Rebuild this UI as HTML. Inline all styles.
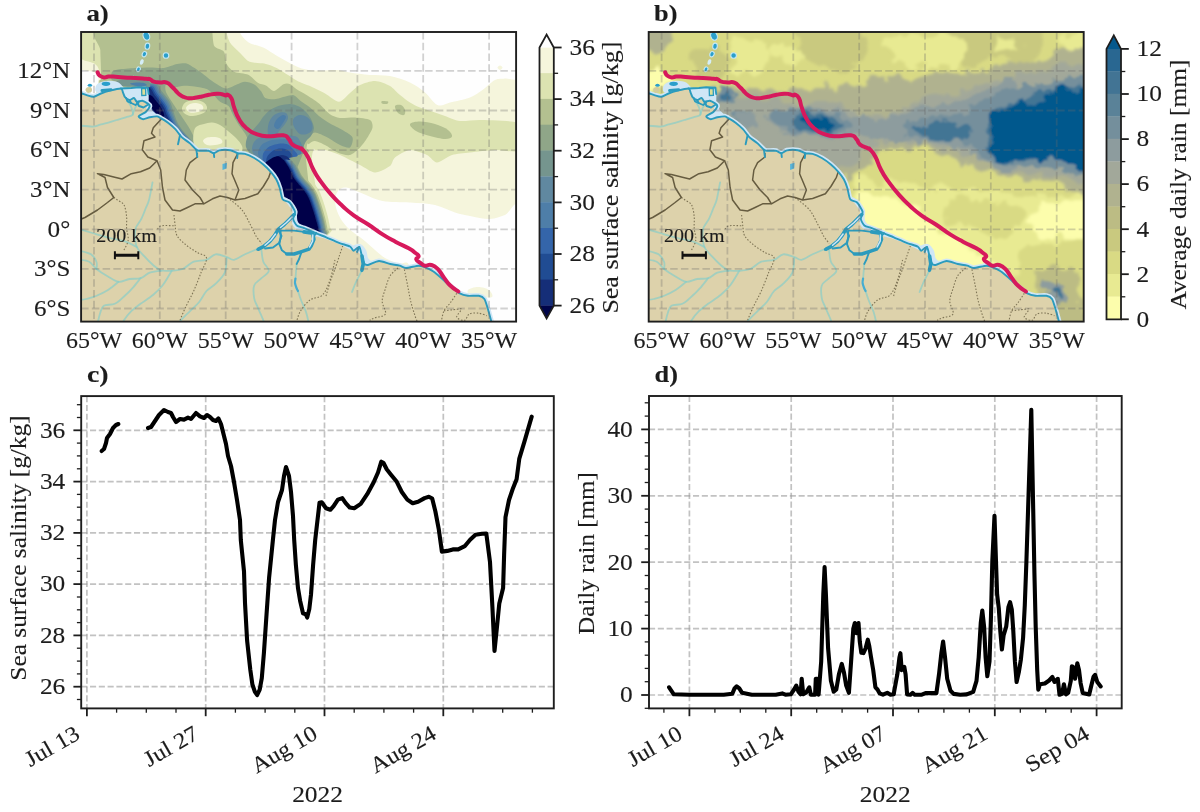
<!DOCTYPE html>
<html lang="en"><head><meta charset="utf-8"><title>Figure</title>
<style>
html,body{margin:0;padding:0;background:#fff;}
body{width:1200px;height:812px;overflow:hidden;}
svg{display:block;filter:blur(0.55px);}
text{font-family:"Liberation Serif",serif;fill:#1c1c1c;stroke:#1c1c1c;stroke-width:0.12px;}
</style></head><body>
<svg width="1200" height="812" viewBox="0 0 1200 812">
<rect x="0" y="0" width="1200" height="812" fill="#ffffff"/>
<defs>
<clipPath id="clipA"><rect x="81.1" y="32.0" width="435.0" height="289.6"/></clipPath>
<filter id="bl1" x="-10%" y="-10%" width="120%" height="120%"><feGaussianBlur stdDeviation="0.7"/></filter>
<filter id="bl2" x="-10%" y="-10%" width="120%" height="120%"><feGaussianBlur stdDeviation="2.2"/></filter>
<filter id="bl3" x="-10%" y="-10%" width="120%" height="120%"><feGaussianBlur stdDeviation="1.3"/></filter>
<filter id="rn2" x="-5%" y="-5%" width="110%" height="110%"><feTurbulence type="fractalNoise" baseFrequency="0.06" numOctaves="3" seed="7" result="n"/><feDisplacementMap in="SourceGraphic" in2="n" scale="22" xChannelSelector="R" yChannelSelector="G"/><feGaussianBlur stdDeviation="1.6"/></filter>
<filter id="rn3" x="-5%" y="-5%" width="110%" height="110%"><feTurbulence type="fractalNoise" baseFrequency="0.09" numOctaves="3" seed="3" result="n"/><feDisplacementMap in="SourceGraphic" in2="n" scale="14" xChannelSelector="R" yChannelSelector="G"/><feGaussianBlur stdDeviation="1.0"/></filter>
<filter id="bl0" x="-5%" y="-5%" width="110%" height="110%"><feGaussianBlur stdDeviation="0.45"/></filter>
<g id="geo">
<path d="M79 93C79.3 93.1 80.8 93.2 81.8 93.5C82.8 93.8 85.9 94.9 87.3 95.3C88.7 95.7 92.1 96.9 93.7 96.7C95.3 96.5 99.1 94.2 101 93.5C102.9 92.8 107.7 91.3 110 90.7C112.3 90.1 119.5 88.3 121 88.5C122.5 88.7 122.5 91.6 123 92.6C123.5 93.6 124.2 96.3 125 97.2C125.8 98.1 128.4 99.9 129.5 100C130.6 100.1 133.1 97.8 134 98C134.9 98.2 135.8 101.4 136.8 101.7C137.8 102 141 100.6 142.3 100.8C143.6 101 146.9 103 147.8 103.6C148.7 104.2 149.9 105.3 149.7 106.3C149.5 107.3 147.3 110.6 146 111.8C144.7 113 139 115.5 138.7 116.4C138.4 117.3 141.9 119.1 143.2 119.2C144.5 119.3 148.1 117.6 149.7 117.3C151.3 117 155.7 116.3 157 116.4C158.3 116.5 159.4 117.5 160.7 118.2C162 118.9 166.3 121.5 168 122.8C169.7 124.1 173.9 127.8 175.3 129.2C176.7 130.6 179.1 134.2 180 135.2C180.9 136.2 181.5 137 182.7 138C183.9 139 188.4 142 190 143.4C191.6 144.8 195.3 148.9 196.4 149.8C197.5 150.7 197.8 150.7 199.2 150.8C200.6 150.9 206.6 150.5 208.3 150.8C210 151.1 212.5 153.3 213.8 153.3C215.1 153.3 217.4 150.8 219.3 150.4C221.2 150 228.2 149.9 230.3 150.2C232.4 150.5 236 152.9 237.7 153.3C239.4 153.7 243.1 153.4 245 153.9C246.9 154.4 252.1 156.8 254.2 158C256.3 159.2 261.4 162.9 263.3 164.5C265.2 166.1 269.2 170.1 270.7 171.8C272.2 173.5 275.1 177.3 276.2 179.2C277.3 181.1 279.1 186 279.8 188.3C280.5 190.6 281.5 197.6 282.6 199.3C283.7 201 288.1 201.1 289.5 202.5C290.9 203.9 294.6 209.8 295 211.7C295.4 213.6 293 217.4 293.2 219C293.4 220.6 295.5 224.3 296.8 225.4C298.1 226.5 301.8 227.2 304.2 228.2C306.6 229.2 314.4 232.6 317 233.7C319.6 234.8 323.6 236.2 326.2 237.3C328.8 238.4 336.2 241.7 339 242.8C341.8 243.9 348.3 245.6 350 246.5C351.7 247.4 352.6 250.7 353.7 250.7C354.8 250.7 358.4 246.4 359.3 246.9C360.2 247.4 361.2 253.5 361.7 255.4C362.2 257.3 363.3 262.2 364 263.3C364.7 264.4 366.2 265.3 368 265C369.8 264.7 376.4 261.1 379 261C381.6 260.9 387.8 263.5 390.2 264C392.6 264.5 397.9 265.2 399.7 265.7C401.5 266.2 403.8 268 406 268C408.2 268 416.5 265.8 418.7 265.7C420.9 265.6 423.3 266.7 425 267.3C426.7 267.9 431.2 270 433 271.2C434.8 272.4 438.8 275.8 440.8 277.6C442.8 279.4 448.1 284.5 450.3 286.3C452.5 288.1 457.8 292.3 459.8 293.4C461.8 294.5 465.6 295.5 467.8 295.8C470 296.1 476.9 295.4 478.8 295.8C480.7 296.2 483.4 297.6 484.4 299C485.4 300.4 486.6 304.8 487.5 307.7C488.4 310.6 491.5 322.1 492 324" fill="none" stroke="#cfe6f6" stroke-width="5.2" stroke-linejoin="round"/>
<path d="M79 93C79.3 93.1 80.8 93.2 81.8 93.5C82.8 93.8 85.9 94.9 87.3 95.3C88.7 95.7 92.1 96.9 93.7 96.7C95.3 96.5 99.1 94.2 101 93.5C102.9 92.8 107.7 91.3 110 90.7C112.3 90.1 119.5 88.3 121 88.5C122.5 88.7 122.5 91.6 123 92.6C123.5 93.6 124.2 96.3 125 97.2C125.8 98.1 128.4 99.9 129.5 100C130.6 100.1 133.1 97.8 134 98C134.9 98.2 135.8 101.4 136.8 101.7C137.8 102 141 100.6 142.3 100.8C143.6 101 146.9 103 147.8 103.6C148.7 104.2 149.9 105.3 149.7 106.3C149.5 107.3 147.3 110.6 146 111.8C144.7 113 139 115.5 138.7 116.4C138.4 117.3 141.9 119.1 143.2 119.2C144.5 119.3 148.1 117.6 149.7 117.3C151.3 117 155.7 116.3 157 116.4C158.3 116.5 159.4 117.5 160.7 118.2C162 118.9 166.3 121.5 168 122.8C169.7 124.1 173.9 127.8 175.3 129.2C176.7 130.6 179.1 134.2 180 135.2C180.9 136.2 181.5 137 182.7 138C183.9 139 188.4 142 190 143.4C191.6 144.8 195.3 148.9 196.4 149.8C197.5 150.7 197.8 150.7 199.2 150.8C200.6 150.9 206.6 150.5 208.3 150.8C210 151.1 212.5 153.3 213.8 153.3C215.1 153.3 217.4 150.8 219.3 150.4C221.2 150 228.2 149.9 230.3 150.2C232.4 150.5 236 152.9 237.7 153.3C239.4 153.7 243.1 153.4 245 153.9C246.9 154.4 252.1 156.8 254.2 158C256.3 159.2 261.4 162.9 263.3 164.5C265.2 166.1 269.2 170.1 270.7 171.8C272.2 173.5 275.1 177.3 276.2 179.2C277.3 181.1 279.1 186 279.8 188.3C280.5 190.6 281.5 197.6 282.6 199.3C283.7 201 288.1 201.1 289.5 202.5C290.9 203.9 294.6 209.8 295 211.7C295.4 213.6 293 217.4 293.2 219C293.4 220.6 295.5 224.3 296.8 225.4C298.1 226.5 301.8 227.2 304.2 228.2C306.6 229.2 314.4 232.6 317 233.7C319.6 234.8 323.6 236.2 326.2 237.3C328.8 238.4 336.2 241.7 339 242.8C341.8 243.9 348.3 245.6 350 246.5C351.7 247.4 352.6 250.7 353.7 250.7C354.8 250.7 358.4 246.4 359.3 246.9C360.2 247.4 361.2 253.5 361.7 255.4C362.2 257.3 363.3 262.2 364 263.3C364.7 264.4 366.2 265.3 368 265C369.8 264.7 376.4 261.1 379 261C381.6 260.9 387.8 263.5 390.2 264C392.6 264.5 397.9 265.2 399.7 265.7C401.5 266.2 403.8 268 406 268C408.2 268 416.5 265.8 418.7 265.7C420.9 265.6 423.3 266.7 425 267.3C426.7 267.9 431.2 270 433 271.2C434.8 272.4 438.8 275.8 440.8 277.6C442.8 279.4 448.1 284.5 450.3 286.3C452.5 288.1 457.8 292.3 459.8 293.4C461.8 294.5 465.6 295.5 467.8 295.8C470 296.1 476.9 295.4 478.8 295.8C480.7 296.2 483.4 297.6 484.4 299C485.4 300.4 486.6 304.8 487.5 307.7C488.4 310.6 491.5 322.1 492 324L492 330L70 330Z" fill="#ddd2ab"/>
<g fill="#cfe6f6">
<path d="M95.5 91C94.8 89.6 95.3 86.6 96.5 85C97.7 83.4 100.6 82.3 102.9 81.6C105.2 80.9 107.6 80.5 110.2 80.7C112.8 80.9 116.5 81.3 118.5 82.5C120.5 83.7 123.6 86.7 122.2 88C120.8 89.3 113.7 89.4 110.2 90.3C106.7 91.2 103.5 93.1 101 93.2C98.5 93.3 96.2 92.4 95.5 91Z"/>
<path d="M122.2 88.5C123.2 87 128.6 88.2 131.3 88C134.1 87.8 135.9 87.2 138.7 87.1C141.4 87 146.1 86 147.8 87.5C149.5 89 148.7 93.7 148.7 96.2C148.7 98.7 148.9 102 147.8 102.7C146.7 103.4 144.1 100.6 142.3 100.4C140.5 100.2 138.2 101.8 136.8 101.3C135.4 100.8 135.2 97.9 134 97.6C132.8 97.3 131 99.7 129.5 99.5C128 99.3 126.2 98.5 125 96.7C123.8 94.9 121.2 90 122.2 88.5Z"/>
<path d="M147 104C147.8 102.8 149.7 104 150.5 105C151.3 106 150.8 108.2 152 110C153.2 111.8 157.8 114.7 157.5 116C157.2 117.3 152.4 117.2 150 117.8C147.6 118.4 145.1 119.7 143.2 119.5C141.3 119.3 138.3 117.7 138.7 116.4C139.1 115.2 144.1 114.1 145.5 112C146.9 109.9 146.2 105.2 147 104Z"/>
<path d="M282 197C282 196.1 285.7 197 288 199C290.3 201 294.3 205.2 296 209C297.7 212.8 296.3 219 298 222C299.7 225 302.7 225.3 306 227C309.3 228.7 314 230.3 318 232C322 233.7 325.5 235.2 330 237C334.5 238.8 340.7 241.3 345 243C349.3 244.7 354.8 245.8 356 247C357.2 248.2 354.7 250.4 352 250C349.3 249.6 344.3 246.3 340 244.5C335.7 242.7 330.2 240.4 326 239C321.8 237.6 318.7 237.3 315 236C311.3 234.7 307.3 232.3 304 231C300.7 229.7 297.2 230 295 228C292.8 226 291.4 221.7 291 219C290.6 216.3 293 214.4 292.5 212C292 209.6 289.8 207 288 204.5C286.2 202 282 197.9 282 197Z"/>
<path d="M352 247C352 245.3 357.7 243.5 360 244C362.3 244.5 364.7 247.7 366 250C367.3 252.3 367 255.9 368 258C369 260.1 372.3 261.2 372 262.5C371.7 263.8 367.7 266.1 366 266C364.3 265.9 363 264 362 262C361 260 361.7 256.5 360 254C358.3 251.5 352 248.7 352 247Z"/>
</g>
<path d="M141.6 88.6 L145.6 88.4 L145.8 95.3 L141.8 95.5Z" fill="#dcdf98" stroke="#2b9bbd" stroke-width="1.3"/>
<path d="M85.5 90C85.4 89.1 86.2 88 87 87.5C87.8 87 89.7 86.7 90.5 87C91.3 87.3 91.9 88.6 92 89.5C92.1 90.4 91.8 91.8 91 92.3C90.2 92.8 88.4 93.2 87.5 92.8C86.6 92.4 85.6 90.9 85.5 90Z" fill="#d3cd9c"/>
<path d="M102 90.6 L111 89.7" stroke="#2b9bbd" stroke-width="3" stroke-linecap="round"/>
<g fill="none" stroke="#86cdc8" stroke-width="1.8" stroke-opacity="0.68" stroke-linejoin="round" stroke-linecap="round">
<path d="M257.8 248.8C255.7 249.7 249 252.5 245 254.3C241 256.1 237.1 259.4 234 259.8C230.9 260.2 229.8 257.9 226.7 257C223.6 256.1 219.1 253.8 215.7 254.3C212.3 254.8 210.2 258.6 206.5 259.8C202.8 261 197.7 260.2 193.7 261.7C189.7 263.2 186.4 267.5 182.7 269C179 270.5 175.4 270.5 171.7 270.8C168 271.1 164.4 270.5 160.7 270.8C157 271.1 153.1 271.5 149.7 272.7C146.3 273.9 143.9 277.1 140.5 278.2C137.1 279.2 133.2 278.4 129.5 279C125.8 279.6 122.2 282.2 118.5 281.8C114.8 281.4 111.2 278.4 107.5 276.3C103.8 274.2 99.5 271.4 96.5 269C93.5 266.6 92.1 263.3 89.2 261.7C86.3 260.1 80.7 259.9 79 259.5"/>
<path d="M160.7 270.8C159.5 269.9 156.1 267.7 153.3 265.3C150.6 262.9 146.9 259.2 144.2 256.2C141.4 253.1 138.3 250.4 136.8 247C135.3 243.6 135.2 239.1 135 236C134.8 232.9 135.3 230.1 135.7 228.3C136.1 226.5 136.4 226.7 137.4 225C138.4 223.3 140.2 221.1 141.6 218.3C143 215.5 144.5 211.4 145.7 208.3C146.9 205.2 147.9 204.3 149 200C150.1 195.7 151.9 185.4 152.5 182.5"/>
<path d="M136.8 247C135 246.1 130.2 243.2 125.7 241.7C121.2 240.2 115.5 239.4 110 238C104.5 236.6 97.6 234.5 92.4 233C87.2 231.5 81.2 229.7 79 229"/>
<path d="M79 250.5C81 251.1 88.1 252.4 91 254.3C93.9 256.2 95.6 259.6 96.5 262C97.4 264.4 96.5 267.8 96.5 269"/>
<path d="M171.7 270.8C170.2 273.2 165.6 281.5 162.5 285.5C159.4 289.5 157 291.6 153.3 294.7C149.6 297.8 144.2 301.1 140.5 303.8C136.8 306.6 134.1 308.4 131.3 311.2C128.6 313.9 125.5 317.8 124 320.3C122.5 322.8 122.3 325.1 122 326"/>
<path d="M140.5 278.2C139.3 279.7 135.9 284.2 133.2 287.3C130.4 290.4 127.1 293.8 124 296.5C120.9 299.2 118.2 302.3 114.8 303.8C111.4 305.3 106.2 304.2 103.8 305.7C101.4 307.2 101.1 310.6 100.2 313C99.3 315.4 98.8 318.1 98.3 320.3C97.8 322.5 97.6 325.1 97.5 326"/>
<path d="M226.7 258C226.4 260.4 226.6 268.4 224.8 272.7C223 277 218.8 280.6 215.7 283.7C212.6 286.8 209.2 287.9 206.5 291C203.8 294.1 201.9 298.6 199.2 302C196.4 305.4 193.1 308.1 190 311.2C186.9 314.2 183 317.8 180.8 320.3C178.6 322.8 177.6 325.1 177 326"/>
<path d="M261.5 250.7C261.8 252.5 262.1 258.3 263.3 261.7C264.5 265.1 269.1 268.1 268.8 270.8C268.5 273.6 263.9 275.8 261.5 278.2C259.1 280.6 255.4 282.1 254.2 285.5C253 288.9 253.6 294.6 254.2 298.3C254.8 302 256.3 303.8 257.8 307.5C259.3 311.2 262.1 317.2 263.3 320.3C264.5 323.4 264.7 325.1 265 326"/>
<path d="M127.7 100.8C128.3 101.9 130.5 104.9 131.3 107.2C132.1 109.5 133.6 112.9 132.7 114.6C131.8 116.3 128.5 116.4 125.8 117.3C123.1 118.2 119.8 119.1 116.7 120C113.7 120.9 110.2 122 107.5 122.8C104.8 123.6 102.5 124.1 100.2 124.7C97.9 125.3 97.2 126.3 93.7 126.5C90.2 126.7 81.5 125.8 79 125.6"/>
<path d="M138.7 102.7C138.1 103.6 136 106.2 135 108.2C134 110.2 133.1 113.5 132.7 114.6"/>
<path d="M118.5 281.8C116.8 283.2 111.8 287.6 108 290C104.2 292.4 99.7 294.5 96 296C92.3 297.5 88.8 298.3 86 299C83.2 299.7 80.2 299.8 79 300"/>
<path d="M364 263.3C363.5 264.8 362.3 268.9 361 272C359.7 275.1 357.5 278.7 356 282C354.5 285.3 352.7 290.3 352 292"/>
<path d="M296.7 263.9C296.6 265.2 296.2 269.6 296 272C295.8 274.4 295.6 277.4 295.5 278.5"/>
<path d="M298 291C298.5 292.5 299.7 296.5 301 300C302.3 303.5 304.7 308 306 312C307.3 316 308.5 322 309 324"/>
</g>
<g fill="none" stroke="#665c40" stroke-width="1.5" stroke-linejoin="round">
<path d="M161.6 118.7 L153.3 127.8 L151.5 133.3 L155 137 L144 140.7 L142.3 149.8 L147.8 157 L157 160.8 L153.3 164.5 L149.7 168 L140.5 171.8 L131.3 173.7 L122 179 L114.8 177.3 L103.8 174.6 L97.4 173.7 L105 177.5 L107.5 187.5 L113.8 197.5 L107.5 202.5 L97.5 210 L85 217.5 L79 220"/>
<path d="M157 160.8 L160.7 170 L162.5 187.5 L165 200 L172.5 210 L180 211 L187.5 207.5 L195 203.8 L203.8 203.8"/>
<path d="M197.3 153 L197.3 157 L190 162.7 L186.3 170 L185 180 L192.5 190 L200 197.5 L203.8 203.8 L212.5 198.8 L220 196 L227.5 197.5 L235 200 L245 198.5 L257.8 193.8 L263.3 186.5 L268.8 177.3 L270.7 171.8"/>
<path d="M237.7 153.5 L233 162.7 L232 173.7 L235.8 182.8 L238.8 190 L235 200"/>
</g>
<g fill="none" stroke="#665c40" stroke-width="1.1" stroke-dasharray="1.5 1.7" stroke-opacity="0.8">
<path d="M113.8 197.5C114.4 197.9 115.7 198.8 117.4 200C119.1 201.2 122.5 202.2 124 205C125.5 207.8 126.2 212.8 126.6 216.7C127 220.6 126.3 224.4 126.6 228.3C126.9 232.2 128.6 236.4 128.2 240C127.8 243.6 124.7 248.3 124 250"/>
<path d="M157.4 229.2C158.1 228.6 158.8 226.4 161.6 225.8C164.4 225.2 171.9 225.8 174 225.8"/>
<path d="M174 215C174.2 217 174.8 223.3 175.3 226.8C175.8 230.3 175.4 232.9 177.2 236C179 239.1 183 242.4 186.3 245.2C189.7 247.9 193.9 250.4 197.3 252.5C200.7 254.6 205.9 254.6 206.5 258C207.1 261.4 203.1 267.2 201 272.7C198.9 278.2 196.1 285.5 193.7 291C191.2 296.5 188.6 300.8 186.3 305.7C184 310.6 181.2 316.9 180 320.3C178.8 323.7 179.2 325.1 179 326"/>
<path d="M227.5 197.5C229.9 199.6 238.2 205.4 242 210C245.8 214.6 248.2 220.7 250.5 225C252.8 229.3 254.2 232.9 256 236C257.8 239.1 260.6 242.1 261.5 243.3"/>
<path d="M335 260C334.2 263.3 332.1 274.2 330 280C327.9 285.8 325.8 291.7 322.5 295C319.2 298.3 313.8 297.2 310 300C306.2 302.8 302.3 308 300 312C297.7 316 296.7 322 296 324"/>
<path d="M342.7 246C342.2 247.6 340.8 251.5 339.5 255.4C338.2 259.4 336.3 265.2 334.7 269.7C333.1 274.2 331.4 277.9 330 282.3C328.6 286.7 326.7 293.7 326 296"/>
<path d="M398 268C396.7 269.3 392.1 272.6 390 276C387.9 279.4 386.7 284.5 385.4 288.7C384.1 292.9 382.2 297.1 382.2 301.3C382.2 305.5 386.7 311.2 385.4 314C384.1 316.8 376.9 316.9 374.3 318C371.7 319.1 370.4 319.9 369.6 320.3"/>
<path d="M404.4 269.7C404.9 272.3 406.6 280.2 407.6 285.5C408.7 290.8 409.4 296 410.7 301.3C412 306.6 414.2 313.4 415.5 317.2C416.8 321 418.2 322.9 418.7 324"/>
<path d="M456.7 293.4C455.6 295 452.4 300 450.3 302.9C448.2 305.8 445.6 307.3 444 310.8C442.4 314.3 441.3 321.8 440.8 324"/>
<path d="M444 310.8C446.1 310.6 453.8 309.6 456.7 309.3C459.6 309.1 461.4 308 461.4 309.3C461.4 310.6 456.2 315.4 456.7 317.2C457.2 319 462.5 320.8 464.6 320.3C466.7 319.8 466.9 315.2 469.3 314C471.7 312.8 475.9 312.9 478.8 313.2C481.7 313.5 485.5 315.2 486.8 315.6"/>
</g>
<g fill="none" stroke="#2b9bbd" stroke-width="1.9" stroke-linejoin="round" stroke-linecap="round">
<path d="M79 93C79.3 93.1 80.8 93.2 81.8 93.5C82.8 93.8 85.9 94.9 87.3 95.3C88.7 95.7 92.1 96.9 93.7 96.7C95.3 96.5 99.1 94.2 101 93.5C102.9 92.8 107.7 91.3 110 90.7C112.3 90.1 119.5 88.3 121 88.5C122.5 88.7 122.5 91.6 123 92.6C123.5 93.6 124.2 96.3 125 97.2C125.8 98.1 128.4 99.9 129.5 100C130.6 100.1 133.1 97.8 134 98C134.9 98.2 135.8 101.4 136.8 101.7C137.8 102 141 100.6 142.3 100.8C143.6 101 146.9 103 147.8 103.6C148.7 104.2 149.9 105.3 149.7 106.3C149.5 107.3 147.3 110.6 146 111.8C144.7 113 139 115.5 138.7 116.4C138.4 117.3 141.9 119.1 143.2 119.2C144.5 119.3 148.1 117.6 149.7 117.3C151.3 117 155.7 116.3 157 116.4C158.3 116.5 159.4 117.5 160.7 118.2C162 118.9 166.3 121.5 168 122.8C169.7 124.1 173.9 127.8 175.3 129.2C176.7 130.6 179.1 134.2 180 135.2C180.9 136.2 181.5 137 182.7 138C183.9 139 188.4 142 190 143.4C191.6 144.8 195.3 148.9 196.4 149.8C197.5 150.7 197.8 150.7 199.2 150.8C200.6 150.9 206.6 150.5 208.3 150.8C210 151.1 212.5 153.3 213.8 153.3C215.1 153.3 217.4 150.8 219.3 150.4C221.2 150 228.2 149.9 230.3 150.2C232.4 150.5 236 152.9 237.7 153.3C239.4 153.7 243.1 153.4 245 153.9C246.9 154.4 252.1 156.8 254.2 158C256.3 159.2 261.4 162.9 263.3 164.5C265.2 166.1 269.2 170.1 270.7 171.8C272.2 173.5 275.1 177.3 276.2 179.2C277.3 181.1 279.1 186 279.8 188.3C280.5 190.6 281.5 197.6 282.6 199.3C283.7 201 288.1 201.1 289.5 202.5C290.9 203.9 294.6 209.8 295 211.7C295.4 213.6 293 217.4 293.2 219C293.4 220.6 295.5 224.3 296.8 225.4C298.1 226.5 301.8 227.2 304.2 228.2C306.6 229.2 314.4 232.6 317 233.7C319.6 234.8 323.6 236.2 326.2 237.3C328.8 238.4 336.2 241.7 339 242.8C341.8 243.9 348.3 245.6 350 246.5C351.7 247.4 352.6 250.7 353.7 250.7C354.8 250.7 358.4 246.4 359.3 246.9C360.2 247.4 361.2 253.5 361.7 255.4C362.2 257.3 363.3 262.2 364 263.3C364.7 264.4 366.2 265.3 368 265C369.8 264.7 376.4 261.1 379 261C381.6 260.9 387.8 263.5 390.2 264C392.6 264.5 397.9 265.2 399.7 265.7C401.5 266.2 403.8 268 406 268C408.2 268 416.5 265.8 418.7 265.7C420.9 265.6 423.3 266.7 425 267.3C426.7 267.9 431.2 270 433 271.2C434.8 272.4 438.8 275.8 440.8 277.6C442.8 279.4 448.1 284.5 450.3 286.3C452.5 288.1 457.8 292.3 459.8 293.4C461.8 294.5 465.6 295.5 467.8 295.8C470 296.1 476.9 295.4 478.8 295.8C480.7 296.2 483.4 297.6 484.4 299C485.4 300.4 486.6 304.8 487.5 307.7C488.4 310.6 491.5 322.1 492 324"/>
<path d="M180 135.2 L178 144.3"/>
<path d="M196.4 149.8 L197.3 157"/>
<path d="M213.8 153.3 L214.2 157"/>
<path d="M237.7 153.3 L237.2 158"/>
<path d="M121 88.5 L131.3 88 L138.7 87.3 L147.8 87.7 L148.6 94"/>
<path d="M129.5 100 L131 103 L135.5 105 L138.5 102.5"/>
<path d="M136.8 101.7 L139 106 L143.5 107.5 L147.5 105"/>
<path d="M126 98 L127.5 101.5 L131 103"/>
<path d="M294.2 214.6 L289.3 219.6 L284.3 224.5 L278.2 229.4 L274.5 235.6 L269.6 241.7 L263.4 246.7 L257.2 249.7"/>
<path d="M280.6 230.6 L294.2 230.6 L304 231.9 L312.7 233.1 L313.9 239.3 L311.4 245.4 L309 249.1 L301.6 251.6 L294.2 254 L286.8 254 L281.9 250.3 L279.4 244.2 L280.6 236.8 L280.6 230.6"/>
<path d="M278.2 229.4 L281.5 236 L279 243 L273 247.5 L265 248.5"/>
<path d="M301.6 251.6 L299.1 259 L296.7 263.9"/>
<path d="M316.4 233.1 L313.3 236.5"/>
<path d="M361.7 255.4 L364 263.3 L361.7 271.2"/>
<path d="M359.3 246.9 L357 252"/>
</g>
<g fill="none" stroke="#2b9bbd" stroke-width="3.6" stroke-linejoin="round" stroke-linecap="round">
<path d="M294.2 214.6 L289.3 219.6 L284.3 224.5 L278.2 229.4 L274.5 235.6 L269.6 241.7 L263.4 246.7 L258.5 249.2"/>
<path d="M304 231.9 L312.7 233.1 L313.9 239.3 L311.4 245.4 L309 249.1 L301.6 251.6 L294.2 254 L286.8 254"/>
<path d="M362 256 L363.2 263.9 L361.9 270"/>
</g>
<g fill="none" stroke="#cfe6f6" stroke-width="1.5" stroke-linecap="round">
<path d="M292 217 L286.5 222.5 L280.5 227.5"/>
<path d="M275.5 234 L271 240 L265 245.3"/>
<path d="M312.8 235 L312.6 241 L309.5 247"/>
</g>
<path d="M295.5 278.5C295.4 279.2 294.8 281.4 295 283C295.2 284.6 296 286.7 296.5 288C297 289.3 297.8 290.5 298 291" fill="none" stroke="#45add2" stroke-width="2.2" stroke-linecap="round"/>
<path d="M222.5 164 L227 162.8 L226.5 168.5 L222.5 170Z" fill="#55b4da"/>
<g fill="#2a9fcb" stroke="#c4e8f4" stroke-width="1.1">
<ellipse cx="146.4" cy="36" rx="3.2" ry="4.4" transform="rotate(-20 146.4 36)"/>
<ellipse cx="147.4" cy="46.2" rx="2.3" ry="3.1" transform="rotate(10 147.4 46.2)"/>
<ellipse cx="144.4" cy="54.2" rx="2.1" ry="2.7" transform="rotate(25 144.4 54.2)"/>
<ellipse cx="138.4" cy="69.3" rx="1.8" ry="2.4" transform="rotate(25 138.4 69.3)"/>
<ellipse cx="166" cy="55.5" rx="2.8" ry="2.8" transform="rotate(0 166 55.5)"/>
<ellipse cx="133.5" cy="77.5" rx="1.5" ry="1.2" transform="rotate(0 133.5 77.5)"/>
</g>
<ellipse cx="141.8" cy="62" rx="1.8" ry="2.8" fill="#d5eef8" transform="rotate(20 141.8 62)"/>
<g fill="#2a9fcb">
<ellipse cx="89.9" cy="85.2" rx="2.2" ry="1.5"/><ellipse cx="106" cy="83.8" rx="4.3" ry="2.1"/>
</g>
</g>
<g id="grid"  stroke="#6a6a6a" stroke-opacity="0.3" stroke-width="1.8" stroke-dasharray="7.5 3.25" fill="none">
<path d="M94 32.0 V321.6"/>
<path d="M159.8 32.0 V321.6"/>
<path d="M225.7 32.0 V321.6"/>
<path d="M291.6 32.0 V321.6"/>
<path d="M357.4 32.0 V321.6"/>
<path d="M423.2 32.0 V321.6"/>
<path d="M489.1 32.0 V321.6"/>
<path d="M81.1 308.5 H516.1"/>
<path d="M81.1 268.9 H516.1"/>
<path d="M81.1 229.3 H516.1"/>
<path d="M81.1 189.7 H516.1"/>
<path d="M81.1 150.1 H516.1"/>
<path d="M81.1 110.5 H516.1"/>
<path d="M81.1 70.9 H516.1"/>
</g>
</defs>
<g clip-path="url(#clipA)">
<rect x="81.1" y="32.0" width="435.0" height="289.6" fill="#ffffff"/>
<g filter="url(#bl1)">
<rect x="79" y="30" width="440" height="294" fill="#f5f5dc"/>
<path d="M240 28C193.3 28.8 238.6 30.3 240 32.7C241.4 35.1 244.4 39.7 248.3 42.2C252.2 44.7 258.5 45.4 263.2 47.6C267.9 49.9 272 53 276.7 55.7C281.4 58.4 286.9 61.6 291.6 63.9C296.4 66.2 300.5 68.2 305.2 69.3C309.9 70.4 314.6 70.4 320 70.5C325.4 70.6 332.5 69.7 337.5 70C342.5 70.3 344.6 71.7 350 72.5C355.4 73.3 363.3 74.4 370 75C376.7 75.6 383.3 74.8 390 76C396.7 77.2 404.2 79.8 410 82.5C415.8 85.2 420.4 88.8 425 92.5C429.6 96.2 433.3 103.3 437.5 105C441.7 106.7 444.6 103.8 450 102.5C455.4 101.2 464.6 99.6 470 97.5C475.4 95.4 478.3 92.9 482.5 90C486.7 87.1 491.2 81.9 495 80C498.8 78.1 500.8 79.3 505 78.5C509.2 77.7 517.5 83.4 520 75C522.5 66.6 566.7 35.8 520 28C473.3 20.2 286.7 27.2 240 28Z" fill="#fefefe"/>
<path d="M338 191C339.8 188.8 342.3 187.2 346 187.5C349.7 187.8 353.9 190.2 360 192.5C366.1 194.8 374.2 199.3 382.5 201C390.8 202.7 401.2 201.8 410 202.5C418.8 203.2 427.5 203.3 435 205C442.5 206.7 449.2 210.7 455 212.5C460.8 214.3 464.2 214.9 470 216C475.8 217.1 484.2 219.2 490 219C495.8 218.8 500 216.3 505 215C510 213.7 517.5 192.5 520 211C522.5 229.5 538.3 306.8 520 326C501.7 345.2 428.3 335.7 410 326C391.7 316.3 412 278.4 410 268C408 257.6 402.2 265.2 398 263.5C393.8 261.8 388.8 260.2 385 258C381.2 255.8 378.7 253.1 375 250C371.3 246.9 367.7 243.3 363 239.5C358.3 235.7 351.1 231.2 347 227C342.9 222.8 340.5 218.9 338.5 214.6C336.5 210.3 335.1 204.9 335 201C334.9 197.1 336.2 193.2 338 191Z" fill="#fefefe"/>
<path d="M78 72C79.7 68.5 85 70.8 88 71C91 71.2 94.2 71.8 96 73C97.8 74.2 97.8 76.2 98.5 78C99.2 79.8 100.2 82.2 100 84C99.8 85.8 99 87.8 97 89C95 90.2 91.2 90.5 88 91C84.8 91.5 79.7 95.2 78 92C76.3 88.8 76.3 75.5 78 72Z" fill="#fefefe"/>
<path d="M497.5 67.5C497.5 66.8 499.2 65.5 500 65.5C500.8 65.5 502.5 66.8 502.5 67.5C502.5 68.2 500.8 70 500 70C499.2 70 497.5 68.2 497.5 67.5Z" fill="#f5f5dc"/>
<path d="M468 290C469.3 288.5 474.5 287 478 287C481.5 287 486.7 288.3 489 290C491.3 291.7 493.5 295.8 492 297C490.5 298.2 483.7 297.2 480 297C476.3 296.8 472 297.2 470 296C468 294.8 466.7 291.5 468 290Z" fill="#f5f5dc"/>
<path d="M76 28C96.1 -0.8 206.5 27.4 226.6 28C246.7 28.6 226.1 30.6 226.6 32.7C227.1 34.8 228.7 40.7 230.7 43.6C232.7 46.5 239 52 241.5 54.4C244 56.8 246.3 60.5 249.6 61.8C252.9 63.1 262.3 63.1 265.9 63.9C269.5 64.7 273.8 66.5 276.7 67.9C279.6 69.3 284.7 72.9 287.6 74.7C290.5 76.5 295.1 79.9 298.4 81.5C301.7 83.1 308.4 85.3 312 86.9C315.6 88.5 321.9 91.7 325.5 93.7C329.1 95.7 335.7 101.9 339 101.8C342.3 101.7 347.2 95.2 350 93C352.8 90.8 356.7 86.6 360 85C363.3 83.4 371 80.9 375 81C379 81.1 386.7 84.1 390 86C393.3 87.9 397.3 92.8 400 95C402.7 97.2 407.3 100.8 410 102.5C412.7 104.2 416.7 106.2 420 107.5C423.3 108.8 431.7 111.4 435 112.5C438.3 113.6 441.7 114.9 445 116C448.3 117.1 455.1 120.5 460 121C464.9 121.5 474 119.6 482 120C490 120.4 514.9 120 520 124C525.1 128 523.3 146.5 520 150C516.7 153.5 501.7 149.7 495 150C488.3 150.3 475.7 151.8 470 152.5C464.3 153.2 456.4 153.7 452 155C447.6 156.3 440.3 162.5 437 162.5C433.7 162.5 430.6 156.7 427 155C423.4 153.3 414.3 149.7 410 150C405.7 150.3 397.7 155.4 395 157.5C392.3 159.6 392.7 164 390 166C387.3 168 379 172.6 375 172.5C371 172.4 364.7 167.3 360 165C355.3 162.7 344.7 157 340 155C335.3 153 328.2 150.6 325 150C321.8 149.4 317.7 149.7 316 150.5C314.3 151.3 314.1 143.5 312 156C309.9 168.5 331.5 232.3 300 244C268.5 255.7 105.9 272.8 76 244C46.1 215.2 55.9 56.8 76 28Z" fill="#dce3b1"/>
<path d="M262 160C262.5 157.1 266.3 151.9 270 150C273.7 148.1 285.2 146.4 290 146C294.8 145.6 302.9 146.2 306 147C309.1 147.8 314.5 151 313 152C311.5 153 296.6 153 295 154.4C293.3 155.8 298.9 160 300.4 162.5C301.8 165.1 304 170.7 305.8 173.4C307.6 176.1 312.1 180.6 313.9 182.9C315.7 185.3 318 188.5 319.3 191C320.5 193.5 322.3 198.6 323.4 201.8C324.5 205.1 326.6 212 327.5 215.4C328.4 218.9 329.7 225.5 330.2 227.6C330.7 229.8 332.9 229.7 331.2 231.6C329.4 233.5 322.2 242.5 317 242C311.8 241.5 297.2 234.1 292 228C286.8 221.9 281.5 203.5 278 196C274.5 188.5 268.1 176.8 266 172C263.9 167.2 261.5 162.9 262 160Z" fill="#dce3b1"/>
<path d="M83 66C83.3 64.5 87 62.7 89 62.5C91 62.3 94.2 63.7 95 65C95.8 66.3 95.3 69.4 94 70.5C92.7 71.6 88.8 72.2 87 71.5C85.2 70.8 82.7 67.5 83 66Z" fill="#f5f5dc"/>
<path d="M100.3 28C115.2 25.1 197.5 27.4 212.4 28C227.3 28.6 212.1 30.3 212.4 32.7C212.7 35.1 212.9 43.8 214.4 46.3C215.9 48.8 222.3 49.4 223.9 51.7C225.5 54 225.2 61.2 226.6 63.9C228 66.6 231.8 70.6 234.7 72C237.6 73.4 245.2 73.3 248.3 74.7C251.4 76.1 255.5 81.3 257.8 82.8C260.1 84.3 263.7 84.5 265.9 85.6C268.1 86.7 271.7 91.2 274 91C276.3 90.8 281.3 85.1 283.5 84.2C285.7 83.3 288.5 83.5 290.3 84.2C292.1 84.9 294.8 88.2 297 89.6C299.2 91 303.6 93.2 306.5 95C309.4 96.8 315.6 100.7 318.7 103.2C321.8 105.7 326.8 112 329.6 114C332.4 116 336.6 117.5 340 118C343.4 118.5 351 117.2 355 117.5C359 117.8 367.7 118.7 370 120C372.3 121.3 372.8 125.2 372.5 127.5C372.2 129.8 369.2 134.8 367.5 137.5C365.8 140.2 362.3 145.2 360 147.5C357.7 149.8 353 154.3 350 155C347 155.7 340.8 153.8 337.5 152.5C334.2 151.2 328 146.5 325 145C322 143.5 317.1 141.1 315 141C312.9 140.9 310.2 142.5 309 144C307.8 145.5 307.7 138.7 306 152C304.3 165.3 320.8 231.7 296 244C271.2 256.3 146.1 263.2 120 244C93.9 224.8 102.5 122.9 100 100C97.5 77.1 101 78.7 101 72C101 65.3 100.4 55.9 100.3 50C100.2 44.1 85.4 30.9 100.3 28Z" fill="#b3c090"/>
<path d="M262 160C262.5 157.1 266.3 151.9 270 150C273.7 148.1 285.6 146.4 290 146C294.4 145.6 300.5 146.2 303 147C305.5 147.8 310.4 150.8 309 152C307.6 153.2 293.9 154.2 292.4 155.8C290.9 157.4 296.4 161.4 297.8 163.9C299.2 166.4 301.4 172.1 303.2 174.8C305 177.5 309.5 181.9 311.3 184.3C313.1 186.6 315.4 189.9 316.7 192.4C318 194.9 319.7 199.9 320.8 203.2C321.9 206.4 324 213.3 324.9 216.8C325.8 220.2 327.1 226.8 327.6 229C328.1 231.1 330 231.3 328.6 233C327.2 234.7 321.9 242.7 317 242C312.1 241.3 297.2 234.1 292 228C286.8 221.9 281.5 203.5 278 196C274.5 188.5 268.1 176.8 266 172C263.9 167.2 261.5 162.9 262 160Z" fill="#b3c090"/>
<path d="M410 124C410.7 122.4 415.8 121.5 420 121.5C424.2 121.5 430.3 122.6 435 124C439.7 125.4 445.2 127.9 448 130C450.8 132.1 452.5 135 452 136.5C451.5 138 448.7 139.1 445 139C441.3 138.9 434.8 137.3 430 136C425.2 134.7 419.3 133 416 131C412.7 129 409.3 125.6 410 124Z" fill="#b3c090"/>
<path d="M395 106C395.5 104.7 399.3 104.3 401 105C402.7 105.7 404.5 108.3 405 110C405.5 111.7 405.2 114.5 404 115C402.8 115.5 399.5 114.5 398 113C396.5 111.5 394.5 107.3 395 106Z" fill="#b3c090"/>
<path d="M382 101C383 100.7 387.2 101 388 101.5C388.8 102 388 103.7 387 104C386 104.3 382.8 104 382 103.5C381.2 103 381 101.3 382 101Z" fill="#b3c090"/>
<path d="M112 72C112.8 70.6 114.9 70 118 69.5C121.1 69 130.7 68.3 135 68C139.3 67.7 146.2 67.5 150 67.5C153.8 67.5 160 68.6 163.6 68.1C167.2 67.6 174 64.6 177.1 64C180.2 63.4 184.3 62.9 186.6 63.4C188.9 63.9 192.4 66.6 194.7 68.1C197 69.6 201.5 72.9 204.2 74.9C206.9 76.9 212.1 81.2 215 83C217.9 84.8 223 88.3 225.9 88.5C228.8 88.7 234.2 85.3 236.7 84.4C239.2 83.5 242.6 81.7 244.9 81.7C247.2 81.7 252.1 83.1 254.3 84.4C256.5 85.7 259.6 89.4 261.1 91.2C262.6 93 263.4 96.8 265.2 97.9C267 99 272 99.5 274.7 99.3C277.4 99.1 283 97.1 285.5 96.6C288 96.1 291.6 94.7 293.6 95.2C295.6 95.7 298.2 99.1 300.4 100.7C302.6 102.3 307.4 105.3 310 107.4C312.6 109.5 317.3 114.6 320 116.7C322.7 118.8 327 121.7 330 123.5C333 125.3 339.5 128.1 342.5 130C345.5 131.9 351.5 135.2 352.5 137.5C353.5 139.8 351.7 146.5 350 147.5C348.3 148.5 343 146.3 340 145C337 143.7 330.8 139.2 327.5 137.5C324.2 135.8 317.5 132.5 315 132.5C312.5 132.5 310.5 135.8 309 137.5C307.5 139.2 304.8 142.9 304 145C303.2 147.1 304.1 149.7 303 153C301.9 156.3 299.1 163.7 296 170C292.9 176.3 284.5 200.5 280 200C275.5 199.5 265.2 172 262 166C258.8 160 256.9 157.2 255.7 154.8C254.5 152.4 253.9 149.8 253 148C252.1 146.2 250 143.3 248.9 141.3C247.8 139.3 246.4 135.5 244.9 133.2C243.4 130.9 239.6 126.2 238 123.7C236.4 121.2 234 116.6 232.7 114.2C231.4 111.8 230.2 107.6 228.6 106C227 104.4 222.5 103.4 220.5 102C218.5 100.6 215.5 96.9 213.7 95.2C211.9 93.5 209.4 90.3 206.9 89.1C204.4 87.9 197.8 86.9 194.7 86.4C191.6 85.9 186.6 85.6 183.9 85.7C181.2 85.8 176.8 87.3 174.4 87.1C172 86.9 167.1 83.8 166 84.5C164.9 85.2 165.2 89.7 166 92C166.8 94.3 170.1 99.1 172 102C173.9 104.9 177.9 110.8 180 114C182.1 117.2 186.1 122.9 188 126C189.9 129.1 192.5 134.1 194 137C195.5 139.9 199.5 146.5 199 148C198.5 149.5 194.5 151.1 190 148C185.5 144.9 170.9 130.1 165 125C159.1 119.9 149.3 114.7 146 110C142.7 105.3 142.8 93.5 140 90C137.2 86.5 128.7 85.3 125 84C121.3 82.7 113.7 81.6 112 80C110.3 78.4 111.2 73.4 112 72Z" fill="#8fa688"/>
<path d="M262 160C262.5 157.1 266.3 151.9 270 150C273.7 148.1 286 146.4 290 146C294 145.6 297.9 146.1 300 147C302.1 147.9 307.2 151.7 306 153C304.8 154.3 292.3 155 291 156.5C289.7 158.1 294.9 162.1 296.4 164.6C297.8 167.2 300 172.8 301.8 175.5C303.6 178.3 308.1 182.7 309.9 185C311.7 187.4 314 190.6 315.3 193.1C316.5 195.7 318.3 200.7 319.4 203.9C320.5 207.2 322.6 214.1 323.5 217.5C324.4 221 325.7 227.6 326.2 229.7C326.7 231.9 328.4 232.1 327.2 233.7C326 235.4 321.7 242.8 317 242C312.3 241.2 297.2 234.1 292 228C286.8 221.9 281.5 203.5 278 196C274.5 188.5 268.1 176.8 266 172C263.9 167.2 261.5 162.9 262 160Z" fill="#8fa688"/>
<path d="M78 60C79.3 56.8 83.2 60.3 86 61C88.8 61.7 92.8 62.5 95 64C97.2 65.5 98.2 67.3 99 70C99.8 72.7 103.5 78.3 100 80C96.5 81.7 81.7 83.3 78 80C74.3 76.7 76.7 63.2 78 60Z" fill="#f5f5dc"/>
<path d="M78 72C79.7 67.7 85 70.8 88 71C91 71.2 94.2 71.8 96 73C97.8 74.2 98.2 75.8 98.5 78C98.8 80.2 98.3 83.7 98 86C97.7 88.3 97.2 90 96.5 92C95.8 94 97.1 97.2 94 98C90.9 98.8 80.7 101.3 78 97C75.3 92.7 76.3 76.3 78 72Z" fill="#fefefe"/>
<path d="M182 108C182.3 106.2 183.8 103.3 186 102C188.2 100.7 192.2 100 195 100C197.8 100 201 100.8 203 102C205 103.2 206.7 105.3 207 107C207.3 108.7 206.5 110.7 205 112C203.5 113.3 200.5 114.3 198 115C195.5 115.7 192.3 116.3 190 116C187.7 115.7 185.3 114.3 184 113C182.7 111.7 181.7 109.8 182 108Z" fill="#dce3b1"/>
<path d="M186 108C186 106.6 188.3 104.8 190 104C191.7 103.2 194 102.8 196 103C198 103.2 200.8 104 202 105C203.2 106 203.7 107.8 203 109C202.3 110.2 200.2 111.4 198 112C195.8 112.6 192 113.2 190 112.5C188 111.8 186 109.4 186 108Z" fill="#f5f5dc"/>
<path d="M193.4 135C193.7 132.2 194.2 128.8 196 127C197.8 125.2 201.3 124.8 204 124C206.7 123.2 209.3 122.3 212 122.5C214.7 122.7 217.3 123.6 220 125C222.7 126.4 225.3 128.8 228 131C230.7 133.2 233.7 135.5 236 138C238.3 140.5 241.2 143.7 242 146C242.8 148.3 243 151 241 152C239 153 234.3 152 230 152C225.7 152 220 152 215 152C210 152 203.5 153.3 200 152C196.5 150.7 195.1 146.8 194 144C192.9 141.2 193.1 137.8 193.4 135Z" fill="#dce3b1"/>
<path d="M203 141C203 139.8 205 138.2 207 137.5C209 136.8 212.7 136.8 215 137C217.3 137.2 219.8 138 221 139C222.2 140 223 142 222 143C221 144 217.5 144.7 215 145C212.5 145.3 209 145.7 207 145C205 144.3 203 142.2 203 141Z" fill="#f5f5dc"/>
<path d="M147 84.8C148.5 82 155.3 83 157.1 83.7C158.9 84.4 159.8 88.5 160.8 89.9C161.8 91.3 163.4 93.3 164.4 94.5C165.4 95.7 167.2 97.9 168.1 99.1C169 100.3 170.3 102.4 170.9 103.7C171.5 105 171.8 106.7 172.7 109.2C173.6 111.7 176 119.5 177.5 122.5C178.9 125.6 181.7 129.2 183.7 131.7C185.6 134.2 190.5 138.9 192.1 141.3C193.7 143.7 196.8 149.1 196 150C195.2 150.9 190.1 150.9 186 148C181.9 145.1 169.8 132.3 165 128C160.2 123.7 152.5 119.2 150 116C147.5 112.8 146.4 108.2 146 104C145.6 99.8 145.5 87.5 147 84.8Z" fill="#75958e"/>
<path d="M147 85.6C148.3 83 154.1 84 155.7 84.7C157.4 85.4 158.5 89.5 159.4 90.9C160.4 92.4 162.1 94.3 163 95.5C164 96.7 165.9 98.9 166.7 100.1C167.6 101.3 168.9 103.4 169.5 104.7C170.2 106.1 170.4 107.7 171.3 110.2C172.3 112.7 175 120.5 176.5 123.4C178.1 126.3 181.1 129.9 183.1 132.3C185.1 134.7 190 139.3 191.8 141.6C193.5 144 196.8 149.2 196 150C195.2 150.8 190.1 150.9 186 148C181.9 145.1 169.8 132.3 165 128C160.2 123.7 152.5 119.2 150 116C147.5 112.8 146.4 108.1 146 104C145.6 99.9 145.7 88.2 147 85.6Z" fill="#6088a0"/>
<path d="M147 86.4C148.1 84 153 84.9 154.5 85.7C155.9 86.4 157.2 90.4 158.2 91.9C159.1 93.3 160.8 95.3 161.8 96.5C162.7 97.7 164.6 99.9 165.5 101.1C166.3 102.3 167.6 104.3 168.3 105.7C168.9 107 169.1 108.7 170.1 111.2C171 113.6 174 121.3 175.7 124.2C177.3 127.1 180.4 130.5 182.5 132.8C184.6 135.2 189.6 139.7 191.4 142C193.2 144.3 196.7 149.2 196 150C195.3 150.8 190.1 150.9 186 148C181.9 145.1 169.8 132.3 165 128C160.2 123.7 152.5 119.2 150 116C147.5 112.8 146.4 107.9 146 104C145.6 100.1 145.9 88.8 147 86.4Z" fill="#4e7ea8"/>
<path d="M147 87.2C148 84.9 151.9 85.9 153.2 86.6C154.5 87.4 155.9 91.4 156.9 92.8C157.9 94.3 159.5 96.2 160.5 97.4C161.5 98.7 163.3 100.8 164.2 102C165 103.3 166.4 105.3 167 106.6C167.6 108 167.7 109.7 168.8 112.1C169.8 114.6 173 122.2 174.8 125C176.5 127.8 179.8 131 182 133.4C184.1 135.7 189.2 140.1 191.1 142.3C193 144.5 196.7 149.2 196 150C195.3 150.8 190.1 150.9 186 148C181.9 145.1 169.8 132.3 165 128C160.2 123.7 152.5 119.2 150 116C147.5 112.8 146.4 107.8 146 104C145.6 100.2 146 89.5 147 87.2Z" fill="#3465aa"/>
<path d="M147 88C147.8 85.8 150.8 86.8 151.9 87.6C153 88.4 154.6 92.4 155.6 93.8C156.6 95.2 158.2 97.2 159.2 98.4C160.2 99.6 162 101.8 162.9 103C163.8 104.2 165.1 106.3 165.7 107.6C166.3 108.9 166.4 110.7 167.5 113.1C168.6 115.5 172 123 173.9 125.8C175.8 128.6 179.1 131.6 181.4 133.9C183.7 136.1 188.9 140.5 190.8 142.6C192.7 144.7 196.6 149.3 196 150C195.4 150.7 190.1 150.9 186 148C181.9 145.1 169.8 132.3 165 128C160.2 123.7 152.5 119.2 150 116C147.5 112.8 146.4 107.7 146 104C145.6 100.3 146.2 90.2 147 88Z" fill="#204c93"/>
<path d="M147 88.8C147.6 86.7 149.6 87.8 150.6 88.6C151.6 89.4 153.3 93.3 154.3 94.8C155.3 96.2 156.9 98.1 157.9 99.4C158.9 100.6 160.8 102.7 161.6 104C162.5 105.2 163.8 107.2 164.4 108.6C165 109.9 165.1 111.7 166.2 114.1C167.4 116.5 171.1 123.9 173 126.6C175 129.3 178.5 132.2 180.8 134.4C183.2 136.6 188.5 140.8 190.5 142.9C192.5 145 196.6 149.3 196 150C195.4 150.7 190.1 150.9 186 148C181.9 145.1 169.8 132.3 165 128C160.2 123.7 152.5 119.2 150 116C147.5 112.8 146.4 107.6 146 104C145.6 100.4 146.4 90.9 147 88.8Z" fill="#152e78"/>
<path d="M148.7 94.4C149.2 94.2 151.4 95.3 152.4 96.2C153.4 97.1 155 99.6 156 100.8C157 102 158.8 104.2 159.7 105.4C160.6 106.6 161.9 108.7 162.5 110C163.1 111.3 164.4 114.5 164.3 115.5C164.2 116.5 162.5 117.6 161.6 117.5C160.7 117.4 159 116 157.9 115C156.8 114 154.4 111.4 153.3 110C152.2 108.6 150.4 106.1 149.7 104.5C149 102.9 148.4 99.3 148.3 98C148.2 96.7 148.2 94.6 148.7 94.4Z" fill="#00054a"/>
<path d="M115.7 82C116.4 81.1 118.8 80.1 122 79.7C125.2 79.3 130.8 79.4 135 79.5C139.2 79.6 144.5 79.8 147 80.5C149.5 81.2 149.7 82.9 150 84C150.3 85.1 151 86.7 149 87.2C147 87.7 142 86.9 138 86.8C134 86.7 128.3 86.8 125 86.5C121.7 86.2 119.5 85.8 118 85C116.5 84.2 115 82.9 115.7 82Z" fill="#75958e"/>
<path d="M130 83.8C129.8 83.2 134.6 82.7 137 82.6C139.4 82.5 142.9 82.7 144.5 83.2C146.1 83.7 147.6 85 146.5 85.5C145.4 86 140.8 86.5 138 86.2C135.2 85.9 130.2 84.4 130 83.8Z" fill="#4e7ea8"/>
<path d="M252 156C249.3 152.7 246.7 149.4 246 147C245.3 144.6 246.2 140.1 247 138C247.8 135.9 250.4 133 252 131C253.6 129 257.5 124.9 259 123C260.5 121.1 261.5 118.7 263 117C264.5 115.3 267.7 111.5 270 110C272.3 108.5 277.3 106.3 280 105.5C282.7 104.7 287.5 103.9 290 104C292.5 104.1 296.9 105.4 299 106.5C301.1 107.6 304.4 110.3 306 112C307.6 113.7 309.9 116.9 311 119C312.1 121.1 314 125.7 314 128C314 130.3 312.1 134.3 311 136C309.9 137.7 307 139.5 306 141C305 142.5 303.8 145.4 303.5 147C303.2 148.6 305.8 151.7 304 153C302.2 154.3 291.2 155.4 290.1 157C289 158.6 294.1 162.6 295.5 165.1C296.9 167.6 299.1 173.3 300.9 176C302.7 178.7 307.2 183.2 309 185.5C310.8 187.9 313.1 191.1 314.4 193.6C315.7 196.1 317.4 201.2 318.5 204.4C319.6 207.7 321.7 214.6 322.6 218C323.5 221.5 324.8 228.1 325.3 230.2C325.8 232.4 327.4 232.6 326.3 234.2C325.2 235.8 321.6 242.8 317 242C312.4 241.2 297.2 234.1 292 228C286.8 221.9 281.5 203.5 278 196C274.5 188.5 269.5 177.3 266 172C262.5 166.7 254.7 159.3 252 156Z" fill="#75958e"/>
<path d="M256 158C254.1 155.1 252.3 152.1 252 150C251.7 147.9 252.9 143.7 254 142C255.1 140.3 257.7 138.2 260 137.5C262.3 136.8 268.3 136.7 271 136.5C273.7 136.3 277.5 136.1 280 136C282.5 135.9 287.7 135.4 290 135.5C292.3 135.6 295.5 136 297 137C298.5 138 300.3 141.3 301 143C301.7 144.7 304.1 148 302.5 150C300.9 152 290 155.6 288.9 157.7C287.8 159.8 292.8 163.2 294.3 165.8C295.7 168.3 297.9 173.9 299.7 176.7C301.5 179.4 306 183.8 307.8 186.2C309.6 188.5 311.9 191.7 313.2 194.3C314.4 196.8 316.2 201.8 317.3 205.1C318.3 208.3 320.4 215.2 321.4 218.7C322.3 222.1 323.6 228.7 324.1 230.9C324.5 233 326 233.4 325.1 234.9C324.1 236.4 321.4 242.9 317 242C312.6 241.1 297.2 234.1 292 228C286.8 221.9 281.5 203.5 278 196C274.5 188.5 268.9 177.1 266 172C263.1 166.9 257.9 160.9 256 158Z" fill="#6088a0"/>
<path d="M268 134C267.4 131.3 267.7 127 268.5 124C269.3 121 271.1 117.9 273 116C274.9 114.1 277.8 113 280 112.5C282.2 112 284.7 112.1 286 113C287.3 113.9 288.2 116.2 288 118C287.8 119.8 286.3 122 285 124C283.7 126 281.5 128 280 130C278.5 132 277.3 134.3 276 136C274.7 137.7 273.3 140.3 272 140C270.7 139.7 268.6 136.7 268 134Z" fill="#6088a0"/>
<path d="M294 118C295.2 116.5 297.8 115.2 300 115C302.2 114.8 305 115.7 307 117C309 118.3 311.2 120.8 312 123C312.8 125.2 312.8 128.2 312 130C311.2 131.8 309 133.3 307 134C305 134.7 301.8 134.7 300 134C298.2 133.3 297.2 131.7 296 130C294.8 128.3 293.3 126 293 124C292.7 122 292.8 119.5 294 118Z" fill="#6088a0"/>
<path d="M274 126C273.8 124.3 275.5 120.8 277 119C278.5 117.2 281.5 115.3 283 115C284.5 114.7 286 115.7 286 117C286 118.3 284.3 121 283 123C281.7 125 279.5 128.5 278 129C276.5 129.5 274.2 127.7 274 126Z" fill="#4e7ea8"/>
<path d="M260 160C258.9 157.3 257.7 154.1 258 152C258.3 149.9 260.4 146 262 144.5C263.6 143 267.9 141.2 270 140.5C272.1 139.8 275.9 139.6 278 139.5C280.1 139.4 283.9 139.2 286 139.5C288.1 139.8 292.3 140.9 294 142C295.7 143.1 298.1 146.4 299 148C299.9 149.6 302.5 152.6 301 154C299.5 155.4 288.8 156.6 287.8 158.2C286.8 159.9 291.8 163.8 293.2 166.3C294.6 168.9 296.8 174.5 298.6 177.2C300.4 180 304.9 184.4 306.7 186.7C308.5 189.1 310.8 192.3 312.1 194.8C313.4 197.4 315.1 202.4 316.2 205.6C317.3 208.9 319.4 215.8 320.3 219.2C321.2 222.7 322.5 229.3 323 231.4C323.5 233.6 324.8 234 324 235.4C323.2 236.8 321.3 243 317 242C312.7 241 297.2 234.1 292 228C286.8 221.9 281.5 203.5 278 196C274.5 188.5 268.4 176.8 266 172C263.6 167.2 261.1 162.7 260 160Z" fill="#4e7ea8"/>
<path d="M263 162C262.6 159.6 262.3 155.9 263 154C263.7 152.1 266.4 148.8 268 147.5C269.6 146.2 273.1 145 275 144.5C276.9 144 280.3 143.5 282 143.5C283.7 143.5 286.4 143.6 288 144.5C289.6 145.4 292.7 148.5 294 150C295.3 151.5 298.5 154.8 297.5 156C296.5 157.2 287.5 157.3 286.8 158.7C286.1 160.2 290.8 164.3 292.2 166.8C293.7 169.4 295.8 175 297.6 177.7C299.4 180.5 303.9 184.9 305.7 187.2C307.5 189.6 309.9 192.8 311.1 195.3C312.4 197.9 314.1 202.9 315.2 206.1C316.3 209.4 318.4 216.3 319.3 219.7C320.2 223.2 321.5 229.8 322 231.9C322.5 234.1 323.7 234.6 323 235.9C322.4 237.3 321.1 243.1 317 242C312.9 240.9 297.2 234.1 292 228C286.8 221.9 281.5 203.5 278 196C274.5 188.5 268 176.5 266 172C264 167.5 263.4 164.4 263 162Z" fill="#3465aa"/>
<path d="M266 164C266.1 162 266.2 158.7 267 157C267.8 155.3 270.5 152.6 272 151.5C273.5 150.4 276.4 149.2 278 148.8C279.6 148.4 282.5 148.5 284 148.8C285.5 149.1 287.9 150 289 151C290.1 152 292.9 155.4 292.5 156.5C292.1 157.6 286 157.8 285.8 159.3C285.7 160.7 289.8 164.8 291.2 167.4C292.7 169.9 294.8 175.5 296.6 178.3C298.4 181 302.9 185.4 304.7 187.8C306.5 190.1 308.9 193.3 310.1 195.9C311.4 198.4 313.2 203.4 314.2 206.7C315.3 209.9 317.4 216.8 318.3 220.3C319.3 223.7 320.6 230.3 321 232.5C321.5 234.6 322.6 235.2 322 236.5C321.5 237.7 321 243.1 317 242C313 240.9 297.2 234.1 292 228C286.8 221.9 281.5 203.5 278 196C274.5 188.5 267.6 176.3 266 172C264.4 167.7 265.9 166 266 164Z" fill="#204c93"/>
<path d="M268 165.5C268.9 163.9 271.3 161.2 272.5 160C273.7 158.8 275.7 157.2 277 156.5C278.3 155.8 280.7 155 282 155C283.3 155 285.9 155.8 287 156.5C288.1 157.2 290.3 159.6 290 160C289.7 160.4 284.8 158.7 284.9 159.8C284.9 160.8 288.8 165.3 290.3 167.9C291.7 170.4 293.9 176.1 295.7 178.8C297.5 181.5 302 185.9 303.8 188.3C305.6 190.6 307.9 193.9 309.2 196.4C310.4 198.9 312.2 203.9 313.3 207.2C314.4 210.4 316.5 217.3 317.4 220.8C318.3 224.2 319.6 230.8 320.1 233C320.6 235.1 321.5 235.8 321.1 237C320.7 238.2 320.9 243.2 317 242C313.1 240.8 297.2 234.1 292 228C286.8 221.9 281.5 203.5 278 196C274.5 188.5 267.3 176.1 266 172C264.7 167.9 267.1 167.1 268 165.5Z" fill="#152e78"/>
<path d="M264.9 163.7C265.3 162 271.2 158.6 273 157.6C274.8 156.6 276.9 155.9 278.4 156.3C279.9 156.7 282.4 158.7 283.9 160.3C285.4 161.9 287.9 165.9 289.3 168.4C290.7 170.9 292.9 176.6 294.7 179.3C296.5 182 301 186.5 302.8 188.8C304.6 191.1 306.9 194.4 308.2 196.9C309.5 199.4 311.2 204.4 312.3 207.7C313.4 211 315.5 217.9 316.4 221.3C317.3 224.7 319.3 231.5 319.1 233.5C318.9 235.5 317.5 236.2 315 236C312.5 235.8 303.3 233.9 300 232C296.7 230.1 291.6 225.5 290 222C288.4 218.5 289.3 209.6 288 206C286.7 202.4 281.6 198.7 280 195C278.4 191.3 277.3 181.3 276 178C274.7 174.7 271.5 171.9 270 170C268.5 168.1 264.5 165.4 264.9 163.7Z" fill="#00054a"/>
</g>
<use href="#geo"/>
<use href="#grid"/>
<path d="M97.6 72.3C98.1 73.2 97.8 74.1 99.5 75.5C101.2 76.9 101.6 77.1 104 77.4C106.4 77.7 106 76.8 108.5 76.6C111 76.4 109.1 76.4 113.2 76.6C117.3 76.8 118.1 77.1 124 77.5C129.9 77.9 129.5 77.7 135.4 78C141.3 78.3 142.1 78.5 146 78.8C149.9 79.1 148.1 78.5 150.2 79.3C152.3 80.1 151.3 80.9 153.9 81.7C156.5 82.5 156.6 82.2 160 82.4C163.4 82.6 163.5 81.3 166.8 82.6C170.1 83.9 169.9 85.1 172.4 87.3C174.9 89.5 174.1 89 176 91C177.9 93 177.6 93.1 179.7 94.7C181.8 96.3 181.5 96 184 97C186.5 98 186.1 98.1 189 98.3C191.9 98.5 191.6 98.3 195 97.8C198.4 97.3 198.2 97.3 201.9 96.5C205.6 95.7 205.1 95.5 209 94.8C212.9 94.1 213.2 93.9 216.7 93.7C220.2 93.5 219.5 93.7 222 94.2C224.5 94.7 224.4 95.5 225.9 95.6C227.4 95.7 226.3 94 227.8 94.7C229.3 95.4 229.8 94.9 231.5 98.3C233.2 101.7 232.2 102.2 234.2 107.6C236.2 113 235.7 113.3 238.9 118.7C242.1 124.1 241.3 123.7 246.2 127.9C251.1 132.1 250.9 132.2 257.3 134.4C263.7 136.6 263.4 136 270.3 136.2C277.2 136.4 278.3 134.6 283.2 135.3C288.1 136 286.2 136.5 288.7 139C291.2 141.5 289.4 142 292.4 144.5C295.4 147 297.4 146.9 300 148.2C302.6 149.5 300.2 147 302.3 149.3C304.4 151.6 304.9 151.3 307.8 156.7C310.7 162.1 309.9 162.9 313.3 169.5C316.7 176.1 315.8 174.5 320.7 181.4C325.6 188.3 325.8 188.6 331.7 195.2C337.6 201.8 336.8 200.8 342.7 206.2C348.6 211.6 346.9 210.4 353.7 215.3C360.5 220.2 360.5 219.4 368.3 224.5C376.1 229.6 375.7 230 383 234.6C390.3 239.2 388.9 238.2 395.8 241.9C402.7 245.6 403.4 245.3 408.7 248.3C414 251.3 412.8 250.9 415.5 253C418.2 255.1 418.5 254.5 418.7 256.2C418.9 257.9 415.7 257.5 416.3 259.4C416.9 261.3 418.7 261.6 421 263.3C423.3 265 422.3 265.2 425 265.7C427.7 266.2 427.9 264.1 431.3 265C434.7 265.9 434.3 265.5 437.7 268.9C441.1 272.3 440.6 273.2 444 277.6C447.4 282 446.5 281.8 450.3 285.5C454.1 289.2 456.2 289.9 458.3 291.5" fill="none" stroke="#d7195c" stroke-width="4.0" stroke-linejoin="round" stroke-linecap="round"/>
<path d="M114.6 255.3 H138.6" stroke="#111" stroke-width="3" fill="none"/><path d="M114.9 251.3 V259.3 M138.3 251.3 V259.3" stroke="#111" stroke-width="2" fill="none"/>
<text x="126.6" y="242.2" font-size="17.9" text-anchor="middle" textLength="60.5" lengthAdjust="spacingAndGlyphs">200 km</text>
</g>
<rect x="81.1" y="32.0" width="435.0" height="289.6" fill="none" stroke="#1e1e1e" stroke-width="1.9"/>
<g transform="translate(567.6 0)">
<g clip-path="url(#clipA)">
<rect x="81.1" y="32.0" width="435.0" height="289.6" fill="#d9da84"/>
<g filter="url(#rn2)">
<path d="M72.7 22.7C77.2 18.3 95.2 20.2 100.2 22.7C105.2 25.1 103.3 32.9 102.7 37.3C102.1 41.7 99.7 46.7 96.5 49.1C93.3 51.4 87.6 51.3 83.7 51.3C79.7 51.3 74.5 53.8 72.7 49.1C70.8 44.3 68.1 27.1 72.7 22.7Z" fill="#b0b28f"/>
<path d="M127.7 52C131.3 47.1 148.5 45.9 153.3 48.3C158.2 50.8 157.6 61.2 157 66.7C156.4 72.2 154 79.5 149.7 81.3C145.4 83.2 135 82.6 131.3 77.7C127.7 72.8 124 56.9 127.7 52Z" fill="#c9c97f"/>
<path d="M234 22.7C243.2 18.4 274.4 17.8 285.4 22.7C296.4 27.6 301.2 44.1 300 52C298.8 59.9 287.2 68.5 278 70.3C268.9 72.2 253 66.7 245 63C237.1 59.3 232.2 55.1 230.3 48.3C228.5 41.6 224.8 26.9 234 22.7Z" fill="#c9c97f"/>
<path d="M384.4 22.7C396 18.4 435.1 19.6 450.4 22.7C465.6 25.7 474.2 34.3 476 41C477.9 47.7 469.9 59.9 461.4 63C452.8 66.1 435.7 58.7 424.7 59.3C413.7 59.9 402.7 68.5 395.4 66.7C388 64.8 382.5 55.7 380.7 48.3C378.9 41 372.8 26.9 384.4 22.7Z" fill="#c9c97f"/>
<path d="M164.3 41C168 35.5 183.9 35.5 190 37.3C196.1 39.2 201 46.5 201 52C201 57.5 195.5 67.3 190 70.3C184.5 73.4 172.3 75.2 168 70.3C163.7 65.4 160.7 46.5 164.3 41Z" fill="#e8ea92"/>
<path d="M202 50C203 47.8 208 46.5 212 46C216 45.5 222.2 45.8 226 47C229.8 48.2 234 50.7 235 53C236 55.3 234.8 59.5 232 61C229.2 62.5 222.3 62.3 218 62C213.7 61.7 208.7 61 206 59C203.3 57 201 52.2 202 50Z" fill="#e8ea92"/>
<path d="M320 40C323 37.2 331.7 35.7 340 35C348.3 34.3 360.3 34.8 370 36C379.7 37.2 393.7 38.3 398 42C402.3 45.7 399 53.7 396 58C393 62.3 387.3 66.7 380 68C372.7 69.3 360.3 67 352 66C343.7 65 335 64.3 330 62C325 59.7 323.7 55.7 322 52C320.3 48.3 317 42.8 320 40Z" fill="#e8ea92"/>
<path d="M425 40C426.3 37.7 435.8 36.7 440 37C444.2 37.3 448.7 39.7 450 42C451.3 44.3 451 49.5 448 51C445 52.5 435.8 52.8 432 51C428.2 49.2 423.7 42.3 425 40Z" fill="#e8ea92"/>
<path d="M493 38C495.7 34.8 511.5 31.7 516 34C520.5 36.3 522.7 48.8 520 52C517.3 55.2 504.5 55.3 500 53C495.5 50.7 490.3 41.2 493 38Z" fill="#e8ea92"/>
<path d="M285.4 187.7C290.9 172.7 306.1 182.5 318.4 182.2C330.6 181.9 345.9 184.3 358.7 185.8C371.5 187.4 383.1 190.4 395.4 191.3C407.6 192.3 419.8 190.4 432 191.3C444.3 192.3 452.2 196.2 468.7 196.9C485.2 197.5 520.7 187.7 531 195C541.4 202.4 539 232.6 531 240.9C523.1 249.1 495 242.7 483.4 244.5C471.8 246.4 466.9 247.3 461.4 251.9C455.9 256.4 458.9 267.4 450.4 272C441.8 276.6 437.5 279.4 410 279.4C382.5 279.4 306.1 287.3 285.4 272C264.6 256.7 279.9 202.7 285.4 187.7Z" fill="#e8ea92"/>
<path d="M147.8 90.5C151.8 86.2 161.6 84.7 171.7 85C181.8 85.3 196.1 91.7 208.3 92.3C220.6 93 232.8 89.9 245 88.7C257.2 87.5 269.5 86.8 281.7 85C293.9 83.2 306.1 79.5 318.4 77.7C330.6 75.8 342.8 75.2 355 74C367.3 72.8 379.5 71.6 391.7 70.3C403.9 69.1 416.1 68.5 428.4 66.7C440.6 64.8 447.3 61.2 465 59.3C482.8 57.5 523.1 34.6 534.7 55.7C546.3 76.8 543.3 165.1 534.7 185.8C526.2 206.6 498 181.9 483.4 180.3C468.7 178.8 458.9 178.5 446.7 176.7C434.5 174.8 421 173 410 169.3C399 165.7 390.5 158.3 380.7 154.7C370.9 151 359.9 148.6 351.4 147.3C342.8 146.1 336.7 146.1 329.4 147.3C322 148.6 313.5 149.8 307.4 154.7C301.2 159.6 298.8 172.4 292.7 176.7C286.6 181 281.7 182.5 270.7 180.3C259.7 178.2 240.1 168.4 226.7 163.8C213.2 159.3 200.4 158.3 190 152.8C179.6 147.3 171.4 137.9 164.3 130.8C157.3 123.8 150.6 117.4 147.8 110.7C145.1 104 143.9 94.8 147.8 90.5Z" fill="#b0b28f"/>
<path d="M149.7 92.3C152.6 89.9 160.1 89.3 168 90.5C176 91.7 187.6 97.5 197.3 99.7C207.1 101.8 216.9 102.7 226.7 103.3C236.5 104 246.2 102.1 256 103.3C265.8 104.6 275.6 108.2 285.4 110.7C295.1 113.1 306.1 118.6 314.7 118C323.2 117.4 328.1 110.7 336.7 107C345.2 103.3 356.2 98.5 366 96C375.8 93.6 385.6 94.8 395.4 92.3C405.1 89.9 413.7 84.4 424.7 81.3C435.7 78.3 443 75.8 461.4 74C479.7 72.2 522.5 53.2 534.7 70.3C546.9 87.5 543.3 159.3 534.7 176.7C526.2 194.1 498 175.8 483.4 174.8C468.7 173.9 457.7 172.7 446.7 171.2C435.7 169.7 426.5 169 417.4 165.7C408.2 162.3 400.3 154.7 391.7 151C383.1 147.3 375.2 145.5 366 143.7C356.9 141.8 345.2 140.6 336.7 140C328.1 139.4 320.8 138.8 314.7 140C308.6 141.2 304.9 142.8 300 147.3C295.1 151.9 291.5 163.8 285.4 167.5C279.2 171.2 273.1 170.9 263.4 169.3C253.6 167.8 238.9 161.7 226.7 158.3C214.5 155 200.4 154.4 190 149.2C179.6 144 170.9 134.5 164.3 127.2C157.7 119.8 152.9 111 150.4 105.2C148 99.4 146.7 94.8 149.7 92.3Z" fill="#a2a89a"/>
<path d="M290.9 195C293.6 192 300.9 190.1 307.4 191.3C313.8 192.6 323.2 199.3 329.4 202.4C335.5 205.4 337.9 206 344 209.7C350.1 213.4 358.1 218.9 366 224.4C374 229.9 383.1 237.2 391.7 242.7C400.3 248.2 411.3 253.1 417.4 257.4C423.5 261.6 430.8 265.9 428.4 268.4C425.9 270.8 410.6 272.3 402.7 272C394.8 271.7 388 269 380.7 266.5C373.4 264.1 366 260.7 358.7 257.4C351.4 254 344 249.7 336.7 246.4C329.4 243 320.8 240.2 314.7 237.2C308.6 234.1 304 232.6 300 228C296 223.4 292.4 215.2 290.9 209.7C289.3 204.2 288.1 198.1 290.9 195Z" fill="#fcfdac"/>
<path d="M461.4 213.4C464.4 209.2 471.8 204.6 483.4 203.1C495 201.6 523.1 198.8 531 204.2C539 209.6 539 230.2 531 235.4C523.1 240.5 494.4 236.6 483.4 235.4C472.4 234.1 468.7 231.7 465 228C461.4 224.4 458.3 217.5 461.4 213.4Z" fill="#fcfdac"/>
<path d="M76 71C78.3 67.2 86.2 69.5 90 70C93.8 70.5 97.3 71.7 99 74C100.7 76.3 100.3 81 100 84C99.7 87 101 90.5 97 92C93 93.5 79.5 96.5 76 93C72.5 89.5 73.7 74.8 76 71Z" fill="#fcfdac"/>
<path d="M373.4 202.4C377.6 198.7 397.8 198.1 410 198.7C422.3 199.3 438.8 202.4 446.7 206C454.6 209.7 458.9 215.8 457.7 220.7C456.5 225.6 447.3 233.5 439.4 235.4C431.4 237.2 419.2 234.1 410 231.7C400.9 229.2 390.5 225.6 384.4 220.7C378.3 215.8 369.1 206 373.4 202.4Z" fill="#d9da84"/>
<path d="M450.4 250C452.8 242.7 469.9 243.3 483.4 242.7C496.8 242.1 523.1 231.1 531 246.4C539 261.6 537.8 319.7 531 334.4C524.3 349 501.1 342.3 490.7 334.4C480.3 326.4 475.4 300.7 468.7 286.7C462 272.6 447.9 257.4 450.4 250Z" fill="#d9da84"/>
<path d="M468.7 272C470.2 264.7 480.9 264.1 487 264.7C493.2 265.3 500.5 269.6 505.4 275.7C510.3 281.8 514.5 291.6 516.4 301.4C518.2 311.1 521.3 328.9 516.4 334.4C511.5 339.9 493.5 338.6 487 334.4C480.6 330.1 480.9 319.1 477.9 308.7C474.8 298.3 467.2 279.4 468.7 272Z" fill="#bcbc84"/>
</g>
<g filter="url(#rn3)">
<path d="M150 89C151.1 87.9 153.8 87.3 156 87.5C158.2 87.7 161.7 88.6 163 90C164.3 91.4 164.7 94.2 164 96C163.3 97.8 161 99.9 159 100.5C157 101.1 153.6 100.6 152 99.5C150.4 98.4 149.8 95.8 149.5 94C149.2 92.2 148.9 90.1 150 89Z" fill="#748f9c"/>
<path d="M165 112C165.8 110.7 169.5 110.3 172 110.5C174.5 110.7 178 111.7 180 113C182 114.3 183.8 116.8 184 118.5C184.2 120.2 182.8 122.3 181 123C179.2 123.7 175.3 123.2 173 122.5C170.7 121.8 168.3 120.2 167 118.5C165.7 116.8 164.2 113.3 165 112Z" fill="#748f9c"/>
<path d="M201 112.5C205.9 109.3 223.6 107.6 234 107C244.4 106.4 254.8 107 263.4 108.8C271.9 110.7 280.5 114.8 285.4 118C290.2 121.2 293.9 125.1 292.7 128.3C291.5 131.5 285.4 135.6 278 137.1C270.7 138.5 257.9 137.5 248.7 137.1C239.5 136.6 230.3 136.3 223 134.5C215.7 132.7 208.3 129.7 204.7 126.1C201 122.4 196.1 115.7 201 112.5Z" fill="#8d9c9e"/>
<path d="M285.4 114.3C289 112.2 306.1 120.1 314.7 119.8C323.2 119.5 328.1 115.3 336.7 112.5C345.2 109.8 356.2 105.5 366 103.3C375.8 101.2 386.2 102.1 395.4 99.7C404.5 97.2 412.5 91.7 421 88.7C429.6 85.6 442.4 67.9 446.7 81.3C451 94.8 451 155.6 446.7 169.3C442.4 183.1 429 166.9 421 163.8C413.1 160.8 407 154.4 399 151C391.1 147.7 382.5 145.2 373.4 143.7C364.2 142.2 353.8 142.5 344 141.8C334.2 141.2 323.2 141.5 314.7 140C306.1 138.5 297.6 137 292.7 132.7C287.8 128.4 281.7 116.5 285.4 114.3Z" fill="#8d9c9e"/>
<path d="M201 114.3C204.1 111.6 218.1 109.5 226.7 108.8C235.2 108.2 244.4 109.1 252.4 110.7C260.3 112.2 268.9 115.3 274.4 118C279.9 120.8 286 124.4 285.4 127.2C284.7 129.9 276.8 133.3 270.7 134.5C264.6 135.7 256 134.8 248.7 134.5C241.3 134.2 233.4 134.2 226.7 132.7C220 131.1 212.6 128.4 208.3 125.3C204.1 122.3 198 117.1 201 114.3Z" fill="#748f9c"/>
<path d="M336.7 125.3C339.7 122.6 349.5 119.5 358.7 118C367.9 116.5 383.1 118.6 391.7 116.2C400.3 113.7 403.3 107.3 410 103.3C416.8 99.4 422.9 95.4 432 92.3C441.2 89.3 447.9 86.8 465 85C482.2 83.2 523.1 67 534.7 81.3C546.3 95.7 543.3 156.8 534.7 171.2C526.2 185.5 498 168.4 483.4 167.5C468.7 166.6 457.1 166.9 446.7 165.7C436.3 164.5 428.4 163.2 421 160.2C413.7 157.1 408.8 150.7 402.7 147.3C396.6 144 391.7 141.2 384.4 140C377 138.8 366 140.9 358.7 140C351.4 139.1 344 137 340.4 134.5C336.7 132.1 333.6 128.1 336.7 125.3Z" fill="#748f9c"/>
<path d="M148.9 91.6C151.1 89.8 159.5 88.4 162.5 89.8C165.5 91.1 167.7 97.3 166.9 99.7C166.1 102.1 160.6 104 157.7 104.1C154.9 104.2 151.1 102.5 149.7 100.4C148.2 98.3 146.8 93.4 148.9 91.6Z" fill="#748f9c"/>
<path d="M169.8 112.5C172.1 111.9 181.1 114 184.5 116.2C187.9 118.3 190.9 123.7 190 125.3C189.1 127 182.2 127 179 126.1C175.8 125.2 172.5 122.1 170.9 119.8C169.4 117.6 167.6 113.1 169.8 112.5Z" fill="#8d9c9e"/>
<path d="M477.9 283C479.4 281.2 485.2 279.7 488.9 281.2C492.5 282.7 498.3 288.5 499.9 292.2C501.4 295.9 500.2 301.7 498 303.2C495.9 304.7 490.1 303.2 487 301.4C484 299.5 481.2 295.2 479.7 292.2C478.2 289.1 476.3 284.9 477.9 283Z" fill="#8d9c9e"/>
<path d="M224.8 118C226.4 115.6 232.5 112.8 237.7 112.5C242.9 112.2 250.5 114.6 256 116.2C261.5 117.7 267.6 119.5 270.7 121.7C273.7 123.8 276.2 127.2 274.4 129C272.5 130.8 265.2 132.4 259.7 132.7C254.2 133 246.5 131.8 241.3 130.8C236.2 129.9 231.3 129.3 228.5 127.2C225.8 125 223.3 120.5 224.8 118Z" fill="#427494"/>
<path d="M344 128.3C344.6 125.6 358.1 122.3 366 121.7C374 121.1 385.6 122.9 391.7 124.6C397.8 126.3 403.3 129.5 402.7 131.9C402.1 134.4 394.8 138.4 388 139.3C381.3 140.2 369.7 139.3 362.4 137.4C355 135.6 343.4 130.9 344 128.3Z" fill="#427494"/>
<path d="M419.2 123.5C421 118.3 425.6 112.5 430.2 108.8C434.8 105.2 440.9 103.3 446.7 101.5C452.5 99.7 459.5 100 465 97.8C470.5 95.7 474.8 90.5 479.7 88.7C484.6 86.8 485.2 86.8 494.4 86.8C503.5 86.8 528 76 534.7 88.7C541.4 101.3 540.2 150.7 534.7 162.7C529.2 174.8 510.3 161.5 501.7 160.9C493.2 160.3 490.1 159.1 483.4 159.1C476.7 159.1 468.7 160.3 461.4 160.9C454 161.5 445.5 163.4 439.4 162.7C433.3 162.1 428.1 161 424.7 157.2C421.3 153.5 420.1 145.6 419.2 140C418.3 134.4 417.4 128.7 419.2 123.5Z" fill="#427494"/>
<path d="M151.5 93.1C152.3 91.6 158.1 91.4 159.9 92.3C161.8 93.3 163.3 97.5 162.5 98.9C161.7 100.4 157 102.1 155.2 101.1C153.3 100.2 150.7 94.5 151.5 93.1Z" fill="#427494"/>
<path d="M483.4 286.7C484.3 285.5 488.6 285.2 490.7 286.7C492.8 288.2 496.2 293.7 496.2 295.9C496.2 298 492.5 299.8 490.7 299.5C488.9 299.2 486.4 296.2 485.2 294C484 291.9 482.5 287.9 483.4 286.7Z" fill="#427494"/>
<path d="M423.1 113.6C425.3 110.4 432.3 111.4 436.4 109.8C440.5 108.2 444.6 106 447.8 104.1C451 102.2 452.9 98.1 455.4 98.4C457.9 98.7 459.8 105.4 463 106C466.2 106.6 471.2 104.4 474.4 102.2C477.6 100 479.1 95.2 482 92.7C484.9 90.2 488.3 87.6 491.5 87C494.7 86.4 498.1 87.6 501 88.9C503.9 90.2 505.4 94.3 508.6 94.6C511.8 94.9 518.1 78.8 520 90.8C521.9 102.8 523.2 155.1 520 166.8C516.8 178.5 507.3 162.4 501 161.1C494.7 159.8 488.3 159.5 482 159.2C475.7 158.9 469.3 158.9 463 159.2C456.7 159.5 449.7 161.1 444 161.1C438.3 161.1 432.3 160.8 428.8 159.2C425.3 157.6 423.7 154.8 423.1 151.6C422.5 148.4 425 144 425 140.2C425 136.4 423.4 133.2 423.1 128.8C422.8 124.4 420.9 116.8 423.1 113.6Z" fill="#06598d"/>
<path d="M233.3 120.6C233.9 118.7 240.6 117 245 116.9C249.4 116.8 256.1 118.7 259.7 120.2C263.2 121.7 266.9 124.5 266.3 126.1C265.7 127.6 260.2 129.1 256 129.4C251.9 129.7 245.1 129.4 241.3 127.9C237.6 126.4 232.7 122.4 233.3 120.6Z" fill="#06598d"/>
</g>
<use href="#geo"/>
<use href="#grid"/>
<path d="M97.6 72.3C98.1 73.2 97.8 74.1 99.5 75.5C101.2 76.9 101.6 77.1 104 77.4C106.4 77.7 106 76.8 108.5 76.6C111 76.4 109.1 76.4 113.2 76.6C117.3 76.8 118.1 77.1 124 77.5C129.9 77.9 129.5 77.7 135.4 78C141.3 78.3 142.1 78.5 146 78.8C149.9 79.1 148.1 78.5 150.2 79.3C152.3 80.1 151.3 80.9 153.9 81.7C156.5 82.5 156.6 82.2 160 82.4C163.4 82.6 163.5 81.3 166.8 82.6C170.1 83.9 169.9 85.1 172.4 87.3C174.9 89.5 174.1 89 176 91C177.9 93 177.6 93.1 179.7 94.7C181.8 96.3 181.5 96 184 97C186.5 98 186.1 98.1 189 98.3C191.9 98.5 191.6 98.3 195 97.8C198.4 97.3 198.2 97.3 201.9 96.5C205.6 95.7 205.1 95.5 209 94.8C212.9 94.1 213.2 93.9 216.7 93.7C220.2 93.5 219.5 93.7 222 94.2C224.5 94.7 224.4 95.5 225.9 95.6C227.4 95.7 226.3 94 227.8 94.7C229.3 95.4 229.8 94.9 231.5 98.3C233.2 101.7 232.2 102.2 234.2 107.6C236.2 113 235.7 113.3 238.9 118.7C242.1 124.1 241.3 123.7 246.2 127.9C251.1 132.1 250.9 132.2 257.3 134.4C263.7 136.6 263.4 136 270.3 136.2C277.2 136.4 278.3 134.6 283.2 135.3C288.1 136 286.2 136.5 288.7 139C291.2 141.5 289.4 142 292.4 144.5C295.4 147 297.4 146.9 300 148.2C302.6 149.5 300.2 147 302.3 149.3C304.4 151.6 304.9 151.3 307.8 156.7C310.7 162.1 309.9 162.9 313.3 169.5C316.7 176.1 315.8 174.5 320.7 181.4C325.6 188.3 325.8 188.6 331.7 195.2C337.6 201.8 336.8 200.8 342.7 206.2C348.6 211.6 346.9 210.4 353.7 215.3C360.5 220.2 360.5 219.4 368.3 224.5C376.1 229.6 375.7 230 383 234.6C390.3 239.2 388.9 238.2 395.8 241.9C402.7 245.6 403.4 245.3 408.7 248.3C414 251.3 412.8 250.9 415.5 253C418.2 255.1 418.5 254.5 418.7 256.2C418.9 257.9 415.7 257.5 416.3 259.4C416.9 261.3 418.7 261.6 421 263.3C423.3 265 422.3 265.2 425 265.7C427.7 266.2 427.9 264.1 431.3 265C434.7 265.9 434.3 265.5 437.7 268.9C441.1 272.3 440.6 273.2 444 277.6C447.4 282 446.5 281.8 450.3 285.5C454.1 289.2 456.2 289.9 458.3 291.5" fill="none" stroke="#d7195c" stroke-width="4.0" stroke-linejoin="round" stroke-linecap="round"/>
<path d="M114.6 255.3 H138.6" stroke="#111" stroke-width="3" fill="none"/><path d="M114.9 251.3 V259.3 M138.3 251.3 V259.3" stroke="#111" stroke-width="2" fill="none"/>
<text x="126.6" y="242.2" font-size="17.9" text-anchor="middle" textLength="60.5" lengthAdjust="spacingAndGlyphs">200 km</text>
</g>
<rect x="81.1" y="32.0" width="435.0" height="289.6" fill="none" stroke="#1e1e1e" stroke-width="1.9"/>
</g>
<text x="70.3" y="78.2" font-size="22.4" text-anchor="end" textLength="53" lengthAdjust="spacingAndGlyphs">12°N</text>
<text x="70.3" y="117.8" font-size="22.4" text-anchor="end" textLength="40.2" lengthAdjust="spacingAndGlyphs">9°N</text>
<text x="70.3" y="157.4" font-size="22.4" text-anchor="end" textLength="40.2" lengthAdjust="spacingAndGlyphs">6°N</text>
<text x="70.3" y="197" font-size="22.4" text-anchor="end" textLength="40.2" lengthAdjust="spacingAndGlyphs">3°N</text>
<text x="70.3" y="236.6" font-size="22.4" text-anchor="end" textLength="22.7" lengthAdjust="spacingAndGlyphs">0°</text>
<text x="70.3" y="276.2" font-size="22.4" text-anchor="end" textLength="36.4" lengthAdjust="spacingAndGlyphs">3°S</text>
<text x="70.3" y="315.8" font-size="22.4" text-anchor="end" textLength="36.4" lengthAdjust="spacingAndGlyphs">6°S</text>
<text x="94" y="347.6" font-size="22.4" text-anchor="middle" textLength="56" lengthAdjust="spacingAndGlyphs">65°W</text>
<text x="159.8" y="347.6" font-size="22.4" text-anchor="middle" textLength="56" lengthAdjust="spacingAndGlyphs">60°W</text>
<text x="225.7" y="347.6" font-size="22.4" text-anchor="middle" textLength="56" lengthAdjust="spacingAndGlyphs">55°W</text>
<text x="291.6" y="347.6" font-size="22.4" text-anchor="middle" textLength="56" lengthAdjust="spacingAndGlyphs">50°W</text>
<text x="357.4" y="347.6" font-size="22.4" text-anchor="middle" textLength="56" lengthAdjust="spacingAndGlyphs">45°W</text>
<text x="423.2" y="347.6" font-size="22.4" text-anchor="middle" textLength="56" lengthAdjust="spacingAndGlyphs">40°W</text>
<text x="489.1" y="347.6" font-size="22.4" text-anchor="middle" textLength="56" lengthAdjust="spacingAndGlyphs">35°W</text>
<text x="86.4" y="20.8" font-size="23.2" text-anchor="start" textLength="22.4" lengthAdjust="spacingAndGlyphs" font-weight="bold">a)</text>
<text x="86.9" y="382.4" font-size="23.2" text-anchor="start" textLength="21.6" lengthAdjust="spacingAndGlyphs" font-weight="bold">c)</text>
<text x="661.6" y="347.6" font-size="22.4" text-anchor="middle" textLength="56" lengthAdjust="spacingAndGlyphs">65°W</text>
<text x="727.5" y="347.6" font-size="22.4" text-anchor="middle" textLength="56" lengthAdjust="spacingAndGlyphs">60°W</text>
<text x="793.3" y="347.6" font-size="22.4" text-anchor="middle" textLength="56" lengthAdjust="spacingAndGlyphs">55°W</text>
<text x="859.2" y="347.6" font-size="22.4" text-anchor="middle" textLength="56" lengthAdjust="spacingAndGlyphs">50°W</text>
<text x="925" y="347.6" font-size="22.4" text-anchor="middle" textLength="56" lengthAdjust="spacingAndGlyphs">45°W</text>
<text x="990.9" y="347.6" font-size="22.4" text-anchor="middle" textLength="56" lengthAdjust="spacingAndGlyphs">40°W</text>
<text x="1056.7" y="347.6" font-size="22.4" text-anchor="middle" textLength="56" lengthAdjust="spacingAndGlyphs">35°W</text>
<text x="654" y="20.8" font-size="23.2" text-anchor="start" textLength="23.4" lengthAdjust="spacingAndGlyphs" font-weight="bold">b)</text>
<text x="654.5" y="382.4" font-size="23.2" text-anchor="start" textLength="23.4" lengthAdjust="spacingAndGlyphs" font-weight="bold">d)</text>
<rect x="539.5" y="47.3" width="14.3" height="26.2" fill="#f5f5dc"/>
<rect x="539.5" y="73.1" width="14.3" height="26.2" fill="#dce3b1"/>
<rect x="539.5" y="98.9" width="14.3" height="26.2" fill="#b3c090"/>
<rect x="539.5" y="124.7" width="14.3" height="26.2" fill="#8fa688"/>
<rect x="539.5" y="150.5" width="14.3" height="26.2" fill="#75958e"/>
<rect x="539.5" y="176.4" width="14.3" height="26.2" fill="#6088a0"/>
<rect x="539.5" y="202.2" width="14.3" height="26.2" fill="#4e7ea8"/>
<rect x="539.5" y="228" width="14.3" height="26.2" fill="#3465aa"/>
<rect x="539.5" y="253.8" width="14.3" height="26.2" fill="#204c93"/>
<rect x="539.5" y="279.6" width="14.3" height="26.2" fill="#152e78"/>
<path d="M539.5 305.6 L546.6 318.5 L553.8 305.6Z" fill="#00054a"/>
<path d="M539.5 47.5 L546.6 34.6 L553.8 47.5Z" fill="#fefefe"/>
<path d="M539.5 305.6L546.6 318.5L553.8 305.6 L553.8 47.5L546.6 34.6L539.5 47.5Z" fill="none" stroke="#1e1e1e" stroke-width="1.8" stroke-linejoin="miter"/>
<path d="M553.8 305.6 h7.8" stroke="#1e1e1e" stroke-width="1.8"/>
<text x="569.5" y="312.9" font-size="22.4" text-anchor="start" textLength="25.4" lengthAdjust="spacingAndGlyphs">26</text>
<path d="M553.8 279.8 h4.3" stroke="#1e1e1e" stroke-width="1.3"/>
<path d="M553.8 254 h7.8" stroke="#1e1e1e" stroke-width="1.8"/>
<text x="569.5" y="261.3" font-size="22.4" text-anchor="start" textLength="25.4" lengthAdjust="spacingAndGlyphs">28</text>
<path d="M553.8 228.2 h4.3" stroke="#1e1e1e" stroke-width="1.3"/>
<path d="M553.8 202.4 h7.8" stroke="#1e1e1e" stroke-width="1.8"/>
<text x="569.5" y="209.7" font-size="22.4" text-anchor="start" textLength="25.4" lengthAdjust="spacingAndGlyphs">30</text>
<path d="M553.8 176.6 h4.3" stroke="#1e1e1e" stroke-width="1.3"/>
<path d="M553.8 150.7 h7.8" stroke="#1e1e1e" stroke-width="1.8"/>
<text x="569.5" y="158" font-size="22.4" text-anchor="start" textLength="25.4" lengthAdjust="spacingAndGlyphs">32</text>
<path d="M553.8 124.9 h4.3" stroke="#1e1e1e" stroke-width="1.3"/>
<path d="M553.8 99.1 h7.8" stroke="#1e1e1e" stroke-width="1.8"/>
<text x="569.5" y="106.4" font-size="22.4" text-anchor="start" textLength="25.4" lengthAdjust="spacingAndGlyphs">34</text>
<path d="M553.8 73.3 h4.3" stroke="#1e1e1e" stroke-width="1.3"/>
<path d="M553.8 47.5 h7.8" stroke="#1e1e1e" stroke-width="1.8"/>
<text x="569.5" y="54.8" font-size="22.4" text-anchor="start" textLength="25.4" lengthAdjust="spacingAndGlyphs">36</text>
<text x="618.4" y="177.6" font-size="23" text-anchor="middle" textLength="272" lengthAdjust="spacingAndGlyphs" transform="rotate(-90 618.4 177.6)">Sea surface salinity [g/kg]</text>
<rect x="1106.5" y="48.7" width="14.5" height="22.9" fill="#296791"/>
<rect x="1106.5" y="71.2" width="14.5" height="22.9" fill="#427494"/>
<rect x="1106.5" y="93.8" width="14.5" height="22.9" fill="#5a8298"/>
<rect x="1106.5" y="116.3" width="14.5" height="22.9" fill="#748f9c"/>
<rect x="1106.5" y="138.8" width="14.5" height="22.9" fill="#8d9c9e"/>
<rect x="1106.5" y="161.4" width="14.5" height="22.9" fill="#a2a89a"/>
<rect x="1106.5" y="183.9" width="14.5" height="22.9" fill="#b0b28f"/>
<rect x="1106.5" y="206.4" width="14.5" height="22.9" fill="#bcbc84"/>
<rect x="1106.5" y="229" width="14.5" height="22.9" fill="#c9c97f"/>
<rect x="1106.5" y="251.5" width="14.5" height="22.9" fill="#d9da84"/>
<rect x="1106.5" y="274" width="14.5" height="22.9" fill="#e8ea92"/>
<rect x="1106.5" y="296.6" width="14.5" height="22.9" fill="#fcfdac"/>
<path d="M1106.5 48.9 L1113.8 35.4 L1121 48.9Z" fill="#06598d"/>
<path d="M1106.5 319.3L1121 319.3 L1121 48.9L1113.8 35.4L1106.5 48.9Z" fill="none" stroke="#1e1e1e" stroke-width="1.8" stroke-linejoin="miter"/>
<path d="M1121 319.3 h7.8" stroke="#1e1e1e" stroke-width="1.8"/>
<text x="1136.5" y="326.6" font-size="22.4" text-anchor="start" textLength="12.7" lengthAdjust="spacingAndGlyphs">0</text>
<path d="M1121 296.8 h4.3" stroke="#1e1e1e" stroke-width="1.3"/>
<path d="M1121 274.2 h7.8" stroke="#1e1e1e" stroke-width="1.8"/>
<text x="1136.5" y="281.5" font-size="22.4" text-anchor="start" textLength="12.7" lengthAdjust="spacingAndGlyphs">2</text>
<path d="M1121 251.7 h4.3" stroke="#1e1e1e" stroke-width="1.3"/>
<path d="M1121 229.2 h7.8" stroke="#1e1e1e" stroke-width="1.8"/>
<text x="1136.5" y="236.5" font-size="22.4" text-anchor="start" textLength="12.7" lengthAdjust="spacingAndGlyphs">4</text>
<path d="M1121 206.7 h4.3" stroke="#1e1e1e" stroke-width="1.3"/>
<path d="M1121 184.1 h7.8" stroke="#1e1e1e" stroke-width="1.8"/>
<text x="1136.5" y="191.4" font-size="22.4" text-anchor="start" textLength="12.7" lengthAdjust="spacingAndGlyphs">6</text>
<path d="M1121 161.6 h4.3" stroke="#1e1e1e" stroke-width="1.3"/>
<path d="M1121 139.1 h7.8" stroke="#1e1e1e" stroke-width="1.8"/>
<text x="1136.5" y="146.4" font-size="22.4" text-anchor="start" textLength="12.7" lengthAdjust="spacingAndGlyphs">8</text>
<path d="M1121 116.5 h4.3" stroke="#1e1e1e" stroke-width="1.3"/>
<path d="M1121 94 h7.8" stroke="#1e1e1e" stroke-width="1.8"/>
<text x="1136.5" y="101.3" font-size="22.4" text-anchor="start" textLength="25.4" lengthAdjust="spacingAndGlyphs">10</text>
<path d="M1121 71.5 h4.3" stroke="#1e1e1e" stroke-width="1.3"/>
<path d="M1121 48.9 h7.8" stroke="#1e1e1e" stroke-width="1.8"/>
<text x="1136.5" y="56.2" font-size="22.4" text-anchor="start" textLength="25.4" lengthAdjust="spacingAndGlyphs">12</text>
<text x="1186.3" y="184.6" font-size="23" text-anchor="middle" textLength="250" lengthAdjust="spacingAndGlyphs" transform="rotate(-90 1186.3 184.6)">Average daily rain [mm]</text>
<rect x="81.2" y="396.1" width="472.59999999999997" height="312.29999999999995" fill="#fff"/>
<g stroke="#9c9c9c" stroke-opacity="0.62" stroke-width="1.7" stroke-dasharray="6.1 2.7" fill="none">
<path d="M86.9 396.1 V708.4"/>
<path d="M205.7 396.1 V708.4"/>
<path d="M324.5 396.1 V708.4"/>
<path d="M443.3 396.1 V708.4"/>
<path d="M81.2 686.7 H553.8"/>
<path d="M81.2 635.4 H553.8"/>
<path d="M81.2 584.1 H553.8"/>
<path d="M81.2 532.9 H553.8"/>
<path d="M81.2 481.6 H553.8"/>
<path d="M81.2 430.3 H553.8"/>
</g>
<g stroke="#1e1e1e" stroke-width="1.8" fill="none">
<path d="M86.9 708.4 v7.8"/>
<path d="M205.7 708.4 v7.8"/>
<path d="M324.5 708.4 v7.8"/>
<path d="M443.3 708.4 v7.8"/>
<path d="M81.2 686.7 h-7.8"/>
<path d="M81.2 635.4 h-7.8"/>
<path d="M81.2 584.1 h-7.8"/>
<path d="M81.2 532.9 h-7.8"/>
<path d="M81.2 481.6 h-7.8"/>
<path d="M81.2 430.3 h-7.8"/>
</g><g stroke="#1e1e1e" stroke-width="1.3" fill="none">
<path d="M116.6 708.4 v4.3"/>
<path d="M146.3 708.4 v4.3"/>
<path d="M176 708.4 v4.3"/>
<path d="M235.4 708.4 v4.3"/>
<path d="M265.1 708.4 v4.3"/>
<path d="M294.8 708.4 v4.3"/>
<path d="M354.2 708.4 v4.3"/>
<path d="M383.9 708.4 v4.3"/>
<path d="M413.6 708.4 v4.3"/>
<path d="M473 708.4 v4.3"/>
<path d="M502.7 708.4 v4.3"/>
<path d="M532.4 708.4 v4.3"/>
<path d="M81.2 699.5 h-4.3"/>
<path d="M81.2 673.9 h-4.3"/>
<path d="M81.2 661.1 h-4.3"/>
<path d="M81.2 648.2 h-4.3"/>
<path d="M81.2 622.6 h-4.3"/>
<path d="M81.2 609.8 h-4.3"/>
<path d="M81.2 597 h-4.3"/>
<path d="M81.2 571.3 h-4.3"/>
<path d="M81.2 558.5 h-4.3"/>
<path d="M81.2 545.7 h-4.3"/>
<path d="M81.2 520 h-4.3"/>
<path d="M81.2 507.2 h-4.3"/>
<path d="M81.2 494.4 h-4.3"/>
<path d="M81.2 468.8 h-4.3"/>
<path d="M81.2 455.9 h-4.3"/>
<path d="M81.2 443.1 h-4.3"/>
<path d="M81.2 417.5 h-4.3"/>
<path d="M81.2 404.7 h-4.3"/>
</g>
<text x="81.4" y="737.8" font-size="22.4" text-anchor="end" textLength="59.1" lengthAdjust="spacingAndGlyphs" transform="rotate(-30 81.4 737.8)">Jul 13</text>
<text x="200.2" y="737.8" font-size="22.4" text-anchor="end" textLength="59.1" lengthAdjust="spacingAndGlyphs" transform="rotate(-30 200.2 737.8)">Jul 27</text>
<text x="319" y="737.8" font-size="22.4" text-anchor="end" textLength="71.9" lengthAdjust="spacingAndGlyphs" transform="rotate(-30 319 737.8)">Aug 10</text>
<text x="437.8" y="737.8" font-size="22.4" text-anchor="end" textLength="71.9" lengthAdjust="spacingAndGlyphs" transform="rotate(-30 437.8 737.8)">Aug 24</text>
<text x="65.3" y="694" font-size="22.4" text-anchor="end" textLength="25.4" lengthAdjust="spacingAndGlyphs">26</text>
<text x="65.3" y="642.7" font-size="22.4" text-anchor="end" textLength="25.4" lengthAdjust="spacingAndGlyphs">28</text>
<text x="65.3" y="591.4" font-size="22.4" text-anchor="end" textLength="25.4" lengthAdjust="spacingAndGlyphs">30</text>
<text x="65.3" y="540.2" font-size="22.4" text-anchor="end" textLength="25.4" lengthAdjust="spacingAndGlyphs">32</text>
<text x="65.3" y="488.9" font-size="22.4" text-anchor="end" textLength="25.4" lengthAdjust="spacingAndGlyphs">34</text>
<text x="65.3" y="437.6" font-size="22.4" text-anchor="end" textLength="25.4" lengthAdjust="spacingAndGlyphs">36</text>
<text x="26.3" y="548" font-size="22.4" text-anchor="middle" textLength="265.3" lengthAdjust="spacingAndGlyphs" transform="rotate(-90 26.3 548)">Sea surface salinity [g/kg]</text>
<text x="317.6" y="801.8" font-size="22.4" text-anchor="middle" textLength="50.9" lengthAdjust="spacingAndGlyphs">2022</text>
<path d="M101.6 451 L104 449 L106 443 L107 438 L110 434 L113 428 L116 425 L118.4 424" fill="none" stroke="#000" stroke-width="4.1" stroke-linejoin="round" stroke-linecap="round"/>
<path d="M148 428 L151 427 L155 421 L159 415 L164 410 L168 412 L171 413 L173 417 L176 422 L180 419 L184 419.6 L188 417.6 L191 419 L196 413 L200 416.4 L204 418 L207 415 L210 417 L213 420 L216 421 L218.4 418.4 L221 424 L224 436 L226 444 L228 456 L231 466 L234 482 L237 500 L240 520 L240.8 540 L244 571.4 L245 602.8 L247.1 640.5 L250.3 669.8 L252.4 684.5 L254.9 691.8 L257.2 695 L259.7 689.7 L261.8 678.2 L263.9 653.1 L266.6 613.3 L269.1 577.7 L272.9 540 L275 520 L278 502 L282 490 L284 476 L286 467 L289 476 L291 492 L293 516 L294.2 540 L295.9 565.1 L298 588.2 L300.1 600.7 L303 613.3 L305.8 614.3 L307.2 617.5 L309.3 609.1 L311 594.5 L313.1 565.1 L315.2 540 L319.5 502.8 L321.7 502.2 L326 508.3 L330.3 509.8 L333.6 506.1 L337.9 499.6 L342.3 498.1 L345.5 502.8 L349.8 507.6 L354.2 508.3 L360.7 503.9 L367.2 494.2 L373.7 482.3 L378 472.5 L381.3 461.7 L383.4 462.8 L386.7 469.3 L391 474.7 L396.4 481.2 L401.8 492 L407.3 499.6 L412.7 503.3 L418.1 501.8 L424.6 498.1 L428.9 496.8 L432.2 498.5 L435.4 511.5 L438.7 528.8 L441.9 551.6 L447.3 550.9 L452.8 549.4 L458.2 549.4 L464.7 546.2 L470.1 539.7 L475.5 534.7 L482 533.8 L486.3 533.6 L490 562.1 L492.4 606.9 L494.5 651 L496.9 627.6 L499.3 603.4 L503.1 587.9 L504.1 555.2 L505.5 517.2 L509 500 L513.1 487.9 L516.6 479.3 L519.3 458.6 L524.5 441.4 L529 425.9 L531.7 416.6" fill="none" stroke="#000" stroke-width="4.1" stroke-linejoin="round" stroke-linecap="round"/>
<rect x="81.2" y="396.1" width="472.59999999999997" height="312.29999999999995" fill="none" stroke="#1e1e1e" stroke-width="1.9"/>
<rect x="649.0" y="396.0" width="472.70000000000005" height="312.4" fill="#fff"/>
<g stroke="#9c9c9c" stroke-opacity="0.62" stroke-width="1.7" stroke-dasharray="6.1 2.7" fill="none">
<path d="M689.4 396.0 V708.4"/>
<path d="M791.2 396.0 V708.4"/>
<path d="M893 396.0 V708.4"/>
<path d="M994.8 396.0 V708.4"/>
<path d="M1096.6 396.0 V708.4"/>
<path d="M649.0 695 H1121.7"/>
<path d="M649.0 628.6 H1121.7"/>
<path d="M649.0 562.2 H1121.7"/>
<path d="M649.0 495.8 H1121.7"/>
<path d="M649.0 429.4 H1121.7"/>
</g>
<g stroke="#1e1e1e" stroke-width="1.8" fill="none">
<path d="M689.4 708.4 v7.8"/>
<path d="M791.2 708.4 v7.8"/>
<path d="M893 708.4 v7.8"/>
<path d="M994.8 708.4 v7.8"/>
<path d="M1096.6 708.4 v7.8"/>
<path d="M649.0 695 h-7.8"/>
<path d="M649.0 628.6 h-7.8"/>
<path d="M649.0 562.2 h-7.8"/>
<path d="M649.0 495.8 h-7.8"/>
<path d="M649.0 429.4 h-7.8"/>
</g><g stroke="#1e1e1e" stroke-width="1.3" fill="none">
<path d="M663.9 708.4 v4.3"/>
<path d="M714.9 708.4 v4.3"/>
<path d="M740.3 708.4 v4.3"/>
<path d="M765.8 708.4 v4.3"/>
<path d="M816.7 708.4 v4.3"/>
<path d="M842.1 708.4 v4.3"/>
<path d="M867.6 708.4 v4.3"/>
<path d="M918.5 708.4 v4.3"/>
<path d="M943.9 708.4 v4.3"/>
<path d="M969.4 708.4 v4.3"/>
<path d="M1020.3 708.4 v4.3"/>
<path d="M1045.7 708.4 v4.3"/>
<path d="M1071.2 708.4 v4.3"/>
<path d="M649.0 708.3 h-4.3"/>
<path d="M649.0 681.7 h-4.3"/>
<path d="M649.0 668.4 h-4.3"/>
<path d="M649.0 655.2 h-4.3"/>
<path d="M649.0 641.9 h-4.3"/>
<path d="M649.0 615.3 h-4.3"/>
<path d="M649.0 602 h-4.3"/>
<path d="M649.0 588.8 h-4.3"/>
<path d="M649.0 575.5 h-4.3"/>
<path d="M649.0 548.9 h-4.3"/>
<path d="M649.0 535.6 h-4.3"/>
<path d="M649.0 522.4 h-4.3"/>
<path d="M649.0 509.1 h-4.3"/>
<path d="M649.0 482.5 h-4.3"/>
<path d="M649.0 469.2 h-4.3"/>
<path d="M649.0 456 h-4.3"/>
<path d="M649.0 442.7 h-4.3"/>
<path d="M649.0 416.1 h-4.3"/>
<path d="M649.0 402.8 h-4.3"/>
</g>
<text x="683.9" y="737.8" font-size="22.4" text-anchor="end" textLength="59.1" lengthAdjust="spacingAndGlyphs" transform="rotate(-30 683.9 737.8)">Jul 10</text>
<text x="785.7" y="737.8" font-size="22.4" text-anchor="end" textLength="59.1" lengthAdjust="spacingAndGlyphs" transform="rotate(-30 785.7 737.8)">Jul 24</text>
<text x="887.5" y="737.8" font-size="22.4" text-anchor="end" textLength="71.9" lengthAdjust="spacingAndGlyphs" transform="rotate(-30 887.5 737.8)">Aug 07</text>
<text x="989.3" y="737.8" font-size="22.4" text-anchor="end" textLength="71.9" lengthAdjust="spacingAndGlyphs" transform="rotate(-30 989.3 737.8)">Aug 21</text>
<text x="1091.1" y="737.8" font-size="22.4" text-anchor="end" textLength="70.1" lengthAdjust="spacingAndGlyphs" transform="rotate(-30 1091.1 737.8)">Sep 04</text>
<text x="632.8" y="702.3" font-size="22.4" text-anchor="end" textLength="12.7" lengthAdjust="spacingAndGlyphs">0</text>
<text x="632.8" y="635.9" font-size="22.4" text-anchor="end" textLength="25.4" lengthAdjust="spacingAndGlyphs">10</text>
<text x="632.8" y="569.5" font-size="22.4" text-anchor="end" textLength="25.4" lengthAdjust="spacingAndGlyphs">20</text>
<text x="632.8" y="503.1" font-size="22.4" text-anchor="end" textLength="25.4" lengthAdjust="spacingAndGlyphs">30</text>
<text x="632.8" y="436.7" font-size="22.4" text-anchor="end" textLength="25.4" lengthAdjust="spacingAndGlyphs">40</text>
<text x="593.8" y="553.5" font-size="22.4" text-anchor="middle" textLength="162.5" lengthAdjust="spacingAndGlyphs" transform="rotate(-90 593.8 553.5)">Daily rain [mm]</text>
<text x="885.3" y="801.8" font-size="22.4" text-anchor="middle" textLength="50.9" lengthAdjust="spacingAndGlyphs">2022</text>
<path d="M669.1 687.3 L673.8 694.3 L689 694.7 L723.7 694.7 L732.3 693.8 L734.5 688.4 L736.7 686.3 L739.3 688.4 L742.1 692.8 L751.8 694.7 L775.7 694.7 L782.2 693.4 L785.4 694.7 L790.8 694.3 L794.1 689.5 L796.3 685.6 L798.4 691.7 L800.6 694.3 L801.7 678.7 L803.2 694.3 L806 692.8 L809.3 687.3 L810.8 694.7 L815.1 694.7 L815.8 678.7 L817.3 678.7 L818.6 694.7 L821.2 661.3 L823.3 594.2 L824.6 567.1 L825.9 594.2 L828.1 648.3 L830.9 680.8 L833.7 691.7 L836.3 689.5 L838.9 674.3 L841.8 663.9 L843.9 672.2 L846.1 685.2 L848.9 692.8 L851.1 661.3 L853.3 628.8 L854.8 623 L856.5 633.2 L858.5 623 L859.8 641.8 L861.3 652.7 L863.4 653.1 L865.6 648.3 L867.8 639.7 L869.3 646.2 L871 657 L873.2 670 L875.4 687.3 L877.5 689.5 L879.7 693.4 L882.9 694.7 L887.3 692.8 L890.5 694.7 L893.8 694.3 L894.1 691.8 L897.3 674.4 L899.5 657.1 L900.4 653.2 L901.7 670.1 L904.3 666.8 L905.6 674.4 L907.1 694.4 L910.4 694.8 L912.5 692.9 L914.7 694.8 L921.2 694.8 L925.5 693.1 L936.4 693.1 L939 674.4 L941.4 652.7 L943.1 641.5 L945 657.1 L947.2 678.8 L950.5 690.7 L953.7 693.9 L960.2 694.8 L966.7 694.4 L973.2 691.8 L976.5 680.9 L978.7 657.1 L980.8 622.4 L982.3 610.5 L984.1 626.7 L985.6 657.1 L987.3 676.2 L989.5 661.4 L991 615.9 L992.3 561.7 L994.5 515.7 L996 561.7 L997.1 594.2 L998.8 608.3 L1000.3 631.1 L1001.9 649.5 L1003.6 635.4 L1006.2 626.7 L1008.4 607.2 L1010.1 602.2 L1011.8 609.4 L1013.3 631.1 L1014.9 661.4 L1016.6 682 L1018.8 672.3 L1020.9 659.3 L1023.1 637.6 L1024.8 605 L1026.4 561.7 L1031.3 409.7 L1034.4 572.5 L1035.7 626.7 L1037.2 670.1 L1038.3 689.6 L1040 684.2 L1044.8 683.5 L1049.1 680.5 L1052.4 677 L1054.5 682 L1057.8 678.8 L1059.5 694.8 L1062.1 693.9 L1063.9 684.2 L1066 694.4 L1068.2 692.9 L1070.8 680.9 L1071.9 666.2 L1074.1 667.9 L1075.1 678.8 L1077.3 663.2 L1079 670.1 L1080.6 683.1 L1082.7 692.9 L1089.2 694.4 L1091.4 685.3 L1093.6 676.6 L1095.1 674.9 L1097.3 682 L1100.7 686.4" fill="none" stroke="#000" stroke-width="4.1" stroke-linejoin="round" stroke-linecap="round"/>
<rect x="649.0" y="396.0" width="472.70000000000005" height="312.4" fill="none" stroke="#1e1e1e" stroke-width="1.9"/>
</svg></body></html>
